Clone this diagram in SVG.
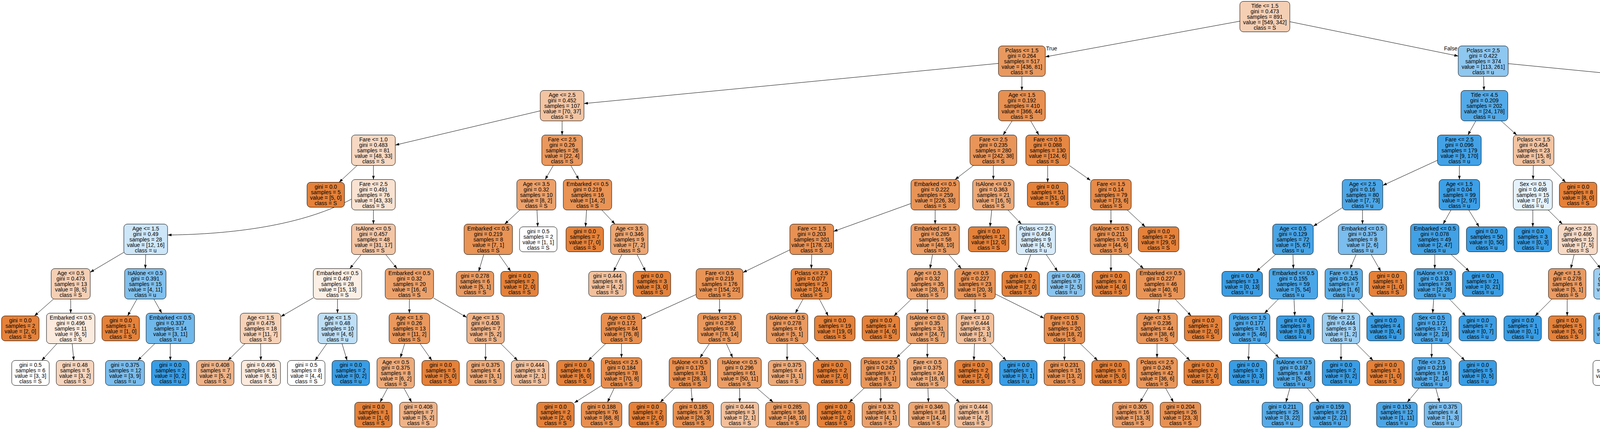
<svg xmlns="http://www.w3.org/2000/svg" width="5945" height="1098" viewBox="0 0 5945 1098">
<style>
.t{font-family:"Liberation Sans",Arial,Helvetica,sans-serif;font-size:14px;text-anchor:middle;fill:#000}
.lbl{font-family:"Liberation Sans",Arial,Helvetica,sans-serif;font-size:14px;fill:#000}
.o{fill:#e58139;stroke:#000;stroke-width:1}
.b{fill:#399de5;stroke:#000;stroke-width:1}
rect.o,rect.b{rx:9px;ry:9px}
#edges path{fill:none;stroke:#000;stroke-width:1;marker-end:url(#ah)}
</style>
<defs>
<marker id="ah" viewBox="0 0 10 7" markerWidth="10" markerHeight="7" refX="10" refY="3.5" orient="auto" markerUnits="userSpaceOnUse"><path d="M0,0 L10,3.5 L0,7 z" fill="#000"/></marker>
</defs>
<rect x="0" y="0" width="5945" height="1098" fill="#fff"/>
<g id="edges">
<path d="M3174.2,54.2 L2676,145.5"/>
<path d="M3301.8,55.5 L3733.2,143.5"/>
<path d="M2556,162.3 L1495,265.1"/>
<path d="M2616,195.5 L2616,231.5"/>
<path d="M3798,195.5 L3799,231.5"/>
<path d="M3860.8,162.8 L4904,265"/>
<path d="M1383,283.7 L1012,371.3"/>
<path d="M1439,309.5 L1439,345.5"/>
<path d="M2591,309.5 L2568,345.5"/>
<path d="M2638.6,309.5 L2659.4,345.5"/>
<path d="M3778.1,309.5 L3757.9,345.5"/>
<path d="M3843.1,309.5 L3882.9,345.5"/>
<path d="M4960,309.5 L4960,345.5"/>
<path d="M5016,279.6 L5608.8,376"/>
<path d="M914.3,423.5 L868.2,466.5"/>
<path d="M956,423.5 L956,459.5"/>
<path d="M1416.4,423.5 L1395.6,459.5"/>
<path d="M1461.2,423.5 L1481.8,459.5"/>
<path d="M2492,423.5 L2445,459.5"/>
<path d="M2543,423.5 L2543,459.5"/>
<path d="M2682,423.5 L2682,466.5"/>
<path d="M2737.4,423.5 L2791.8,461.8"/>
<path d="M3680,410.2 L3540.2,474.5"/>
<path d="M3736,423.5 L3736,459.5"/>
<path d="M3925.3,423.5 L3924.7,459.5"/>
<path d="M3965,423.5 L4008,466.5"/>
<path d="M4928.5,423.5 L4899.5,459.5"/>
<path d="M5021.6,423.5 L5084,463"/>
<path d="M5661,423.5 L5661,459.5"/>
<path d="M5701.4,423.5 L5745.9,466.5"/>
<path d="M900,509.5 C760,585 560,600 429,601.5"/>
<path d="M956,537.5 L956,573.5"/>
<path d="M1330.9,537.5 L1292.1,573.5"/>
<path d="M1374.7,537.5 L1376.6,580.5"/>
<path d="M1501.6,537.5 L1499,580.5"/>
<path d="M1540.6,537.5 L1574.4,573.5"/>
<path d="M2332.3,520.8 L2134,592.3"/>
<path d="M2394,537.5 L2394,573.5"/>
<path d="M2538.9,537.5 L2534.4,580.5"/>
<path d="M2580.3,537.5 L2614.7,573.5"/>
<path d="M2844,537.5 L2844,573.5"/>
<path d="M2885.7,537.5 L2931.8,580.5"/>
<path d="M3435.8,531.9 L3362.2,579.1"/>
<path d="M3488,537.5 L3488,573.5"/>
<path d="M3714.5,537.5 L3694.5,573.5"/>
<path d="M3760,537.5 L3786.4,580.5"/>
<path d="M3924,537.5 L3924,580.5"/>
<path d="M3963.3,537.5 L3999.7,573.5"/>
<path d="M4812,532.3 L4735,578.7"/>
<path d="M4868,537.5 L4868,573.5"/>
<path d="M5140,537.5 L5139,573.5"/>
<path d="M5196,526.1 L5315,584.9"/>
<path d="M5661,537.5 L5660,573.5"/>
<path d="M5701,537.5 L5745.2,580.5"/>
<path d="M317,645.8 L230.8,696.9"/>
<path d="M373,651.5 L372,687.5"/>
<path d="M924.5,651.5 L895.5,687.5"/>
<path d="M987.5,651.5 L1016.5,687.5"/>
<path d="M1238.4,651.5 L1225.5,694.5"/>
<path d="M1277.4,651.5 L1307.5,694.5"/>
<path d="M1591.8,651.5 L1570.7,694.5"/>
<path d="M1630.8,651.5 L1652.7,694.5"/>
<path d="M2022,639.5 L1902,697.5"/>
<path d="M2078,651.5 L2077,687.5"/>
<path d="M2387.2,651.5 L2380.8,687.5"/>
<path d="M2428.9,651.5 L2461.1,687.5"/>
<path d="M2638.7,651.5 L2623.9,694.5"/>
<path d="M2678.3,651.5 L2707.4,694.5"/>
<path d="M2844,651.5 L2844,694.5"/>
<path d="M2887.4,651.5 L2927.6,687.5"/>
<path d="M3265.5,651.5 L3216.5,694.5"/>
<path d="M3310,651.5 L3311,687.5"/>
<path d="M3471.6,651.5 L3456.4,687.5"/>
<path d="M3510.2,651.5 L3534.8,694.5"/>
<path d="M3673,651.5 L3673,687.5"/>
<path d="M3715,651.5 L3761.5,694.5"/>
<path d="M4029.8,651.5 L4021.2,687.5"/>
<path d="M4069.4,651.5 L4097.6,687.5"/>
<path d="M4623,645.8 L4543,693.3"/>
<path d="M4679,651.5 L4678,687.5"/>
<path d="M4857.4,651.5 L4847.6,687.5"/>
<path d="M4898.8,651.5 L4932.7,694.5"/>
<path d="M5118.8,651.5 L5096.6,694.5"/>
<path d="M5159.5,651.5 L5178.5,687.5"/>
<path d="M5371,651.5 L5371,687.5"/>
<path d="M5426.4,651.5 L5477.6,687.5"/>
<path d="M5660,651.5 L5660,694.5"/>
<path d="M5699.7,651.5 L5743.4,694.5"/>
<path d="M136.9,765.5 L88.2,808.5"/>
<path d="M181,765.5 L181,801.5"/>
<path d="M350.5,765.5 L326.7,808.5"/>
<path d="M393.9,765.5 L414.1,801.5"/>
<path d="M802.3,762.2 L719.2,810.3"/>
<path d="M864,765.5 L864,801.5"/>
<path d="M1048,765.5 L1048,801.5"/>
<path d="M1109.7,762.6 L1194.7,812.3"/>
<path d="M1782,753.8 L1643.2,816.8"/>
<path d="M1842,765.5 L1842,801.5"/>
<path d="M2055.8,765.5 L2036.2,801.5"/>
<path d="M2097.5,765.5 L2120.2,808.5"/>
<path d="M2333.3,765.5 L2288.4,808.5"/>
<path d="M2374,765.5 L2374,801.5"/>
<path d="M2496,765.5 L2496,801.5"/>
<path d="M2548.2,752.5 L2672.8,814.5"/>
<path d="M2967.9,765.5 L2965.1,801.5"/>
<path d="M3008.3,765.5 L3049.4,808.5"/>
<path d="M3272.7,765.5 L3237.3,801.5"/>
<path d="M3312.7,765.5 L3314.6,808.5"/>
<path d="M3437.6,765.5 L3435.4,801.5"/>
<path d="M3476.6,765.5 L3517,808.5"/>
<path d="M3670.3,765.5 L3667.7,801.5"/>
<path d="M3710.6,765.5 L3752.1,808.5"/>
<path d="M3973,765.5 L3930,808.5"/>
<path d="M4012,765.5 L4012,808.5"/>
<path d="M4128,765.5 L4128,801.5"/>
<path d="M4167.3,765.5 L4210.7,808.5"/>
<path d="M4445.3,765.5 L4406.7,801.5"/>
<path d="M4487,765.5 L4487,808.5"/>
<path d="M4652,765.5 L4623.3,808.5"/>
<path d="M4691,765.5 L4705.3,808.5"/>
<path d="M4835.6,765.5 L4834.4,801.5"/>
<path d="M4877,765.5 L4914,801.5"/>
<path d="M5158.3,765.5 L5120.7,801.5"/>
<path d="M5199,765.5 L5199,808.5"/>
<path d="M5352.5,765.5 L5335.5,801.5"/>
<path d="M5392.2,765.5 L5415.6,808.5"/>
<path d="M5537.8,765.5 L5542.2,801.5"/>
<path d="M5594.7,755.3 L5728.7,817.9"/>
<path d="M145.8,879.5 L106.9,922.5"/>
<path d="M184.8,879.5 L188.9,922.5"/>
<path d="M396.3,879.5 L352.6,922.5"/>
<path d="M436,879.5 L436,922.5"/>
<path d="M627.3,879.5 L583.6,922.5"/>
<path d="M667.3,879.5 L667.7,922.5"/>
<path d="M836.6,879.5 L806.5,922.5"/>
<path d="M875.6,879.5 L888.5,922.5"/>
<path d="M1036,879.5 L1025,915.5"/>
<path d="M1075.4,879.5 L1105.5,922.5"/>
<path d="M1243,879.5 L1243,922.5"/>
<path d="M1282,879.5 L1325,922.5"/>
<path d="M1550.6,879.5 L1506.1,922.5"/>
<path d="M1591,879.5 L1591,915.5"/>
<path d="M1816,879.5 L1792,915.5"/>
<path d="M1859.4,879.5 L1875.6,915.5"/>
<path d="M2015,879.5 L2015,922.5"/>
<path d="M2054.3,879.5 L2097.7,922.5"/>
<path d="M2333,879.5 L2295,915.5"/>
<path d="M2374,879.5 L2374,915.5"/>
<path d="M2494.6,879.5 L2493.1,922.5"/>
<path d="M2534,879.5 L2575.8,922.5"/>
<path d="M2725,879.5 L2725,922.5"/>
<path d="M2765.4,879.5 L2809.9,922.5"/>
<path d="M2962,879.5 L2962,915.5"/>
<path d="M3002,879.5 L3046.2,922.5"/>
<path d="M3197.6,879.5 L3196.1,922.5"/>
<path d="M3238,879.5 L3274,915.5"/>
<path d="M3433,879.5 L3433,922.5"/>
<path d="M3472,879.5 L3515,922.5"/>
<path d="M3665,879.5 L3665,915.5"/>
<path d="M3705.4,879.5 L3749.9,922.5"/>
<path d="M4127.3,879.5 L4126.6,922.5"/>
<path d="M4166.6,879.5 L4209.3,922.5"/>
<path d="M4363.3,879.5 L4361.7,915.5"/>
<path d="M4403.6,879.5 L4439.4,915.5"/>
<path d="M4785,866 C4700,885 4655,890 4636,922.5"/>
<path d="M4791.6,879.5 L4746,922.5"/>
<path d="M4913.3,879.5 L4875.7,915.5"/>
<path d="M4954.7,879.5 L4955.4,922.5"/>
<path d="M5078.3,879.5 L5076.7,915.5"/>
<path d="M5119.3,879.5 L5162.7,922.5"/>
<path d="M5314.6,879.5 L5312,922.5"/>
<path d="M5355,879.5 L5390,915.5"/>
<path d="M5547,879.5 L5547,915.5"/>
<path d="M5586.3,879.5 L5622.7,915.5"/>
<path d="M5777,879.5 L5777,922.5"/>
<path d="M5816,879.5 L5859,922.5"/>
<path d="M992.2,993.5 L973,1029.5"/>
<path d="M1034.1,993.5 L1053.7,1029.5"/>
<path d="M1538.8,987.5 L1470.3,1030.9"/>
<path d="M1572.4,993.5 L1555.2,1029.5"/>
<path d="M1726.6,993.5 L1690.3,1029.5"/>
<path d="M1769.3,993.5 L1772.3,1029.5"/>
<path d="M1893.4,993.5 L1893.7,1029.5"/>
<path d="M1937.8,993.5 L1979.2,1029.5"/>
<path d="M2212.4,993.5 L2174.1,1029.5"/>
<path d="M2254.4,993.5 L2254.7,1029.5"/>
<path d="M2375.5,993.5 L2376.8,1029.5"/>
<path d="M2417,993.5 L2456.7,1029.5"/>
<path d="M2939.4,993.5 L2918.5,1029.5"/>
<path d="M2983.9,993.5 L3004.1,1029.5"/>
<path d="M3302.1,993.5 L3292,1029.5"/>
<path d="M3346.5,993.5 L3377.5,1029.5"/>
<path d="M3632.6,993.5 L3602.6,1029.5"/>
<path d="M3675.6,993.5 L3685.3,1029.5"/>
<path d="M4318.1,993.5 L4279.4,1029.5"/>
<path d="M4360,993.5 L4360,1029.5"/>
<path d="M4477.6,993.5 L4477.3,1029.5"/>
<path d="M4519.9,993.5 L4558.6,1029.5"/>
<path d="M4795.3,993.5 L4758.6,1029.5"/>
<path d="M4837.2,993.5 L4839.2,1029.5"/>
<path d="M5033.4,993.5 L4995.1,1029.5"/>
<path d="M5075.7,993.5 L5076.4,1029.5"/>
<path d="M5374.8,987.8 L5305.3,1031.3"/>
<path d="M5407.2,993.5 L5388,1029.5"/>
<path d="M5524.8,993.5 L5504.2,1029.5"/>
<path d="M5567,993.5 L5585.6,1029.5"/>
<path d="M5682,993.5 L5700.6,1029.5"/>
<path d="M5710.3,985.1 L5782.7,1030.9"/>
<text class="lbl" x="2678" y="129">True</text>
<text class="lbl" x="3731" y="129" text-anchor="end">False</text>
</g>
<g id="nodes">
<g id="n0" transform="translate(3238 42.5)"><rect class="o" x="-64" y="-39" width="128" height="78" fill-opacity=".38"/><text class="t" y="-23"><tspan x="0">Title &lt;= 1.5</tspan><tspan x="0" dy="14">gini = 0.473</tspan><tspan x="0" dy="14">samples = 891</tspan><tspan x="0" dy="14">value = [549, 342]</tspan><tspan x="0" dy="14">class = S</tspan></text></g>
<g id="n1" transform="translate(2616 156.5)"><rect class="o" x="-60" y="-39" width="120" height="78" fill-opacity=".81"/><text class="t" y="-23"><tspan x="0">Pclass &lt;= 1.5</tspan><tspan x="0" dy="14">gini = 0.264</tspan><tspan x="0" dy="14">samples = 517</tspan><tspan x="0" dy="14">value = [436, 81]</tspan><tspan x="0" dy="14">class = S</tspan></text></g>
<g id="n2" transform="translate(3797 156.5)"><rect class="b" x="-64" y="-39" width="128" height="78" fill-opacity=".57"/><text class="t" y="-23"><tspan x="0">Pclass &lt;= 2.5</tspan><tspan x="0" dy="14">gini = 0.422</tspan><tspan x="0" dy="14">samples = 374</tspan><tspan x="0" dy="14">value = [113, 261]</tspan><tspan x="0" dy="14">class = u</tspan></text></g>
<g id="n3" transform="translate(1439 270.5)"><rect class="o" x="-56" y="-39" width="112" height="78" fill-opacity=".47"/><text class="t" y="-23"><tspan x="0">Age &lt;= 2.5</tspan><tspan x="0" dy="14">gini = 0.452</tspan><tspan x="0" dy="14">samples = 107</tspan><tspan x="0" dy="14">value = [70, 37]</tspan><tspan x="0" dy="14">class = S</tspan></text></g>
<g id="n4" transform="translate(2616 270.5)"><rect class="o" x="-60" y="-39" width="120" height="78" fill-opacity=".88"/><text class="t" y="-23"><tspan x="0">Age &lt;= 1.5</tspan><tspan x="0" dy="14">gini = 0.192</tspan><tspan x="0" dy="14">samples = 410</tspan><tspan x="0" dy="14">value = [366, 44]</tspan><tspan x="0" dy="14">class = S</tspan></text></g>
<g id="n5" transform="translate(3800 270.5)"><rect class="b" x="-60" y="-39" width="120" height="78" fill-opacity=".87"/><text class="t" y="-23"><tspan x="0">Title &lt;= 4.5</tspan><tspan x="0" dy="14">gini = 0.209</tspan><tspan x="0" dy="14">samples = 202</tspan><tspan x="0" dy="14">value = [24, 178]</tspan><tspan x="0" dy="14">class = u</tspan></text></g>
<g id="n6" transform="translate(4960 270.5)"><rect class="o" x="-56" y="-39" width="112" height="78" fill-opacity=".07"/><text class="t" y="-23"><tspan x="0">Fare &lt;= 2.5</tspan><tspan x="0" dy="14">gini = 0.499</tspan><tspan x="0" dy="14">samples = 172</tspan><tspan x="0" dy="14">value = [89, 83]</tspan><tspan x="0" dy="14">class = S</tspan></text></g>
<g id="n7" transform="translate(956 384.5)"><rect class="o" x="-56" y="-39" width="112" height="78" fill-opacity=".31"/><text class="t" y="-23"><tspan x="0">Fare &lt;= 1.0</tspan><tspan x="0" dy="14">gini = 0.483</tspan><tspan x="0" dy="14">samples = 81</tspan><tspan x="0" dy="14">value = [48, 33]</tspan><tspan x="0" dy="14">class = S</tspan></text></g>
<g id="n8" transform="translate(1439 384.5)"><rect class="o" x="-52" y="-39" width="104" height="78" fill-opacity=".82"/><text class="t" y="-23"><tspan x="0">Fare &lt;= 2.5</tspan><tspan x="0" dy="14">gini = 0.26</tspan><tspan x="0" dy="14">samples = 26</tspan><tspan x="0" dy="14">value = [22, 4]</tspan><tspan x="0" dy="14">class = S</tspan></text></g>
<g id="n9" transform="translate(2543 384.5)"><rect class="o" x="-60" y="-39" width="120" height="78" fill-opacity=".84"/><text class="t" y="-23"><tspan x="0">Fare &lt;= 2.5</tspan><tspan x="0" dy="14">gini = 0.235</tspan><tspan x="0" dy="14">samples = 280</tspan><tspan x="0" dy="14">value = [242, 38]</tspan><tspan x="0" dy="14">class = S</tspan></text></g>
<g id="n10" transform="translate(2682 384.5)"><rect class="o" x="-56" y="-39" width="112" height="78" fill-opacity=".95"/><text class="t" y="-23"><tspan x="0">Fare &lt;= 0.5</tspan><tspan x="0" dy="14">gini = 0.088</tspan><tspan x="0" dy="14">samples = 130</tspan><tspan x="0" dy="14">value = [124, 6]</tspan><tspan x="0" dy="14">class = S</tspan></text></g>
<g id="n11" transform="translate(3736 384.5)"><rect class="b" x="-56" y="-39" width="112" height="78" fill-opacity=".95"/><text class="t" y="-23"><tspan x="0">Fare &lt;= 2.5</tspan><tspan x="0" dy="14">gini = 0.096</tspan><tspan x="0" dy="14">samples = 179</tspan><tspan x="0" dy="14">value = [9, 170]</tspan><tspan x="0" dy="14">class = u</tspan></text></g>
<g id="n12" transform="translate(3926 384.5)"><rect class="o" x="-52" y="-39" width="104" height="78" fill-opacity=".47"/><text class="t" y="-23"><tspan x="0">Pclass &lt;= 1.5</tspan><tspan x="0" dy="14">gini = 0.454</tspan><tspan x="0" dy="14">samples = 23</tspan><tspan x="0" dy="14">value = [15, 8]</tspan><tspan x="0" dy="14">class = S</tspan></text></g>
<g id="n13" transform="translate(4960 384.5)"><rect class="b" x="-62" y="-39" width="124" height="78" fill-opacity=".18"/><text class="t" y="-23"><tspan x="0">Embarked &lt;= 0.5</tspan><tspan x="0" dy="14">gini = 0.495</tspan><tspan x="0" dy="14">samples = 146</tspan><tspan x="0" dy="14">value = [66, 80]</tspan><tspan x="0" dy="14">class = u</tspan></text></g>
<g id="n14" transform="translate(5661 384.5)"><rect class="o" x="-52" y="-39" width="104" height="78" fill-opacity=".87"/><text class="t" y="-23"><tspan x="0">Age &lt;= 1.5</tspan><tspan x="0" dy="14">gini = 0.204</tspan><tspan x="0" dy="14">samples = 26</tspan><tspan x="0" dy="14">value = [23, 3]</tspan><tspan x="0" dy="14">class = S</tspan></text></g>
<g id="n15" transform="translate(834 498.5)"><rect class="o" x="-48" y="-32" width="96" height="64" fill-opacity="1"/><text class="t" y="-16"><tspan x="0">gini = 0.0</tspan><tspan x="0" dy="14">samples = 5</tspan><tspan x="0" dy="14">value = [5, 0]</tspan><tspan x="0" dy="14">class = S</tspan></text></g>
<g id="n16" transform="translate(956 498.5)"><rect class="o" x="-56" y="-39" width="112" height="78" fill-opacity=".23"/><text class="t" y="-23"><tspan x="0">Fare &lt;= 2.5</tspan><tspan x="0" dy="14">gini = 0.491</tspan><tspan x="0" dy="14">samples = 76</tspan><tspan x="0" dy="14">value = [43, 33]</tspan><tspan x="0" dy="14">class = S</tspan></text></g>
<g id="n17" transform="translate(1373 498.5)"><rect class="o" x="-50" y="-39" width="100" height="78" fill-opacity=".75"/><text class="t" y="-23"><tspan x="0">Age &lt;= 3.5</tspan><tspan x="0" dy="14">gini = 0.32</tspan><tspan x="0" dy="14">samples = 10</tspan><tspan x="0" dy="14">value = [8, 2]</tspan><tspan x="0" dy="14">class = S</tspan></text></g>
<g id="n18" transform="translate(1504 498.5)"><rect class="o" x="-62" y="-39" width="124" height="78" fill-opacity=".86"/><text class="t" y="-23"><tspan x="0">Embarked &lt;= 0.5</tspan><tspan x="0" dy="14">gini = 0.219</tspan><tspan x="0" dy="14">samples = 16</tspan><tspan x="0" dy="14">value = [14, 2]</tspan><tspan x="0" dy="14">class = S</tspan></text></g>
<g id="n19" transform="translate(2394 498.5)"><rect class="o" x="-62" y="-39" width="124" height="78" fill-opacity=".85"/><text class="t" y="-23"><tspan x="0">Embarked &lt;= 0.5</tspan><tspan x="0" dy="14">gini = 0.222</tspan><tspan x="0" dy="14">samples = 259</tspan><tspan x="0" dy="14">value = [226, 33]</tspan><tspan x="0" dy="14">class = S</tspan></text></g>
<g id="n20" transform="translate(2543 498.5)"><rect class="o" x="-53" y="-39" width="106" height="78" fill-opacity=".69"/><text class="t" y="-23"><tspan x="0">IsAlone &lt;= 0.5</tspan><tspan x="0" dy="14">gini = 0.363</tspan><tspan x="0" dy="14">samples = 21</tspan><tspan x="0" dy="14">value = [16, 5]</tspan><tspan x="0" dy="14">class = S</tspan></text></g>
<g id="n21" transform="translate(2682 498.5)"><rect class="o" x="-52" y="-32" width="104" height="64" fill-opacity="1"/><text class="t" y="-16"><tspan x="0">gini = 0.0</tspan><tspan x="0" dy="14">samples = 51</tspan><tspan x="0" dy="14">value = [51, 0]</tspan><tspan x="0" dy="14">class = S</tspan></text></g>
<g id="n22" transform="translate(2844 498.5)"><rect class="o" x="-52" y="-39" width="104" height="78" fill-opacity=".92"/><text class="t" y="-23"><tspan x="0">Fare &lt;= 1.5</tspan><tspan x="0" dy="14">gini = 0.14</tspan><tspan x="0" dy="14">samples = 79</tspan><tspan x="0" dy="14">value = [73, 6]</tspan><tspan x="0" dy="14">class = S</tspan></text></g>
<g id="n23" transform="translate(3488 498.5)"><rect class="b" x="-52" y="-39" width="104" height="78" fill-opacity=".9"/><text class="t" y="-23"><tspan x="0">Age &lt;= 2.5</tspan><tspan x="0" dy="14">gini = 0.16</tspan><tspan x="0" dy="14">samples = 80</tspan><tspan x="0" dy="14">value = [7, 73]</tspan><tspan x="0" dy="14">class = u</tspan></text></g>
<g id="n24" transform="translate(3736 498.5)"><rect class="b" x="-52" y="-39" width="104" height="78" fill-opacity=".98"/><text class="t" y="-23"><tspan x="0">Age &lt;= 1.5</tspan><tspan x="0" dy="14">gini = 0.04</tspan><tspan x="0" dy="14">samples = 99</tspan><tspan x="0" dy="14">value = [2, 97]</tspan><tspan x="0" dy="14">class = u</tspan></text></g>
<g id="n25" transform="translate(3924 498.5)"><rect class="b" x="-50" y="-39" width="100" height="78" fill-opacity=".13"/><text class="t" y="-23"><tspan x="0">Sex &lt;= 0.5</tspan><tspan x="0" dy="14">gini = 0.498</tspan><tspan x="0" dy="14">samples = 15</tspan><tspan x="0" dy="14">value = [7, 8]</tspan><tspan x="0" dy="14">class = u</tspan></text></g>
<g id="n26" transform="translate(4040 498.5)"><rect class="o" x="-48" y="-32" width="96" height="64" fill-opacity="1"/><text class="t" y="-16"><tspan x="0">gini = 0.0</tspan><tspan x="0" dy="14">samples = 8</tspan><tspan x="0" dy="14">value = [8, 0]</tspan><tspan x="0" dy="14">class = S</tspan></text></g>
<g id="n27" transform="translate(4868 498.5)"><rect class="o" x="-56" y="-39" width="112" height="78" fill-opacity=".18"/><text class="t" y="-23"><tspan x="0">Title &lt;= 2.5</tspan><tspan x="0" dy="14">gini = 0.495</tspan><tspan x="0" dy="14">samples = 82</tspan><tspan x="0" dy="14">value = [45, 37]</tspan><tspan x="0" dy="14">class = S</tspan></text></g>
<g id="n28" transform="translate(5140 498.5)"><rect class="b" x="-56" y="-39" width="112" height="78" fill-opacity=".51"/><text class="t" y="-23"><tspan x="0">Fare &lt;= 1.5</tspan><tspan x="0" dy="14">gini = 0.441</tspan><tspan x="0" dy="14">samples = 64</tspan><tspan x="0" dy="14">value = [21, 43]</tspan><tspan x="0" dy="14">class = u</tspan></text></g>
<g id="n29" transform="translate(5661 498.5)"><rect class="o" x="-52" y="-39" width="104" height="78" fill-opacity=".89"/><text class="t" y="-23"><tspan x="0">Age &lt;= 0.5</tspan><tspan x="0" dy="14">gini = 0.172</tspan><tspan x="0" dy="14">samples = 21</tspan><tspan x="0" dy="14">value = [19, 2]</tspan><tspan x="0" dy="14">class = S</tspan></text></g>
<g id="n30" transform="translate(5779 498.5)"><rect class="o" x="-48" y="-32" width="96" height="64" fill-opacity=".75"/><text class="t" y="-16"><tspan x="0">gini = 0.32</tspan><tspan x="0" dy="14">samples = 5</tspan><tspan x="0" dy="14">value = [4, 1]</tspan><tspan x="0" dy="14">class = S</tspan></text></g>
<g id="n31" transform="translate(373 612.5)"><rect class="b" x="-56" y="-39" width="112" height="78" fill-opacity=".25"/><text class="t" y="-23"><tspan x="0">Age &lt;= 1.5</tspan><tspan x="0" dy="14">gini = 0.49</tspan><tspan x="0" dy="14">samples = 28</tspan><tspan x="0" dy="14">value = [12, 16]</tspan><tspan x="0" dy="14">class = u</tspan></text></g>
<g id="n32" transform="translate(956 612.5)"><rect class="o" x="-56" y="-39" width="112" height="78" fill-opacity=".45"/><text class="t" y="-23"><tspan x="0">IsAlone &lt;= 0.5</tspan><tspan x="0" dy="14">gini = 0.457</tspan><tspan x="0" dy="14">samples = 48</tspan><tspan x="0" dy="14">value = [31, 17]</tspan><tspan x="0" dy="14">class = S</tspan></text></g>
<g id="n33" transform="translate(1250 612.5)"><rect class="o" x="-62" y="-39" width="124" height="78" fill-opacity=".86"/><text class="t" y="-23"><tspan x="0">Embarked &lt;= 0.5</tspan><tspan x="0" dy="14">gini = 0.219</tspan><tspan x="0" dy="14">samples = 8</tspan><tspan x="0" dy="14">value = [7, 1]</tspan><tspan x="0" dy="14">class = S</tspan></text></g>
<g id="n34" transform="translate(1378 612.5)"><rect class="o" x="-48" y="-32" width="96" height="64" fill-opacity="0"/><text class="t" y="-16"><tspan x="0">gini = 0.5</tspan><tspan x="0" dy="14">samples = 2</tspan><tspan x="0" dy="14">value = [1, 1]</tspan><tspan x="0" dy="14">class = S</tspan></text></g>
<g id="n35" transform="translate(1497 612.5)"><rect class="o" x="-48" y="-32" width="96" height="64" fill-opacity="1"/><text class="t" y="-16"><tspan x="0">gini = 0.0</tspan><tspan x="0" dy="14">samples = 7</tspan><tspan x="0" dy="14">value = [7, 0]</tspan><tspan x="0" dy="14">class = S</tspan></text></g>
<g id="n36" transform="translate(1611 612.5)"><rect class="o" x="-48" y="-39" width="96" height="78" fill-opacity=".71"/><text class="t" y="-23"><tspan x="0">Age &lt;= 3.5</tspan><tspan x="0" dy="14">gini = 0.346</tspan><tspan x="0" dy="14">samples = 9</tspan><tspan x="0" dy="14">value = [7, 2]</tspan><tspan x="0" dy="14">class = S</tspan></text></g>
<g id="n37" transform="translate(2078 612.5)"><rect class="o" x="-56" y="-39" width="112" height="78" fill-opacity=".87"/><text class="t" y="-23"><tspan x="0">Fare &lt;= 1.5</tspan><tspan x="0" dy="14">gini = 0.203</tspan><tspan x="0" dy="14">samples = 201</tspan><tspan x="0" dy="14">value = [178, 23]</tspan><tspan x="0" dy="14">class = S</tspan></text></g>
<g id="n38" transform="translate(2394 612.5)"><rect class="o" x="-62" y="-39" width="124" height="78" fill-opacity=".79"/><text class="t" y="-23"><tspan x="0">Embarked &lt;= 1.5</tspan><tspan x="0" dy="14">gini = 0.285</tspan><tspan x="0" dy="14">samples = 58</tspan><tspan x="0" dy="14">value = [48, 10]</tspan><tspan x="0" dy="14">class = S</tspan></text></g>
<g id="n39" transform="translate(2531 612.5)"><rect class="o" x="-52" y="-32" width="104" height="64" fill-opacity="1"/><text class="t" y="-16"><tspan x="0">gini = 0.0</tspan><tspan x="0" dy="14">samples = 12</tspan><tspan x="0" dy="14">value = [12, 0]</tspan><tspan x="0" dy="14">class = S</tspan></text></g>
<g id="n40" transform="translate(2652 612.5)"><rect class="b" x="-50" y="-39" width="100" height="78" fill-opacity=".2"/><text class="t" y="-23"><tspan x="0">Pclass &lt;= 2.5</tspan><tspan x="0" dy="14">gini = 0.494</tspan><tspan x="0" dy="14">samples = 9</tspan><tspan x="0" dy="14">value = [4, 5]</tspan><tspan x="0" dy="14">class = u</tspan></text></g>
<g id="n41" transform="translate(2844 612.5)"><rect class="o" x="-53" y="-39" width="106" height="78" fill-opacity=".86"/><text class="t" y="-23"><tspan x="0">IsAlone &lt;= 0.5</tspan><tspan x="0" dy="14">gini = 0.211</tspan><tspan x="0" dy="14">samples = 50</tspan><tspan x="0" dy="14">value = [44, 6]</tspan><tspan x="0" dy="14">class = S</tspan></text></g>
<g id="n42" transform="translate(2966 612.5)"><rect class="o" x="-52" y="-32" width="104" height="64" fill-opacity="1"/><text class="t" y="-16"><tspan x="0">gini = 0.0</tspan><tspan x="0" dy="14">samples = 29</tspan><tspan x="0" dy="14">value = [29, 0]</tspan><tspan x="0" dy="14">class = S</tspan></text></g>
<g id="n43" transform="translate(3310 612.5)"><rect class="b" x="-52" y="-39" width="104" height="78" fill-opacity=".93"/><text class="t" y="-23"><tspan x="0">Age &lt;= 0.5</tspan><tspan x="0" dy="14">gini = 0.129</tspan><tspan x="0" dy="14">samples = 72</tspan><tspan x="0" dy="14">value = [5, 67]</tspan><tspan x="0" dy="14">class = u</tspan></text></g>
<g id="n44" transform="translate(3488 612.5)"><rect class="b" x="-62" y="-39" width="124" height="78" fill-opacity=".67"/><text class="t" y="-23"><tspan x="0">Embarked &lt;= 0.5</tspan><tspan x="0" dy="14">gini = 0.375</tspan><tspan x="0" dy="14">samples = 8</tspan><tspan x="0" dy="14">value = [2, 6]</tspan><tspan x="0" dy="14">class = u</tspan></text></g>
<g id="n45" transform="translate(3673 612.5)"><rect class="b" x="-62" y="-39" width="124" height="78" fill-opacity=".96"/><text class="t" y="-23"><tspan x="0">Embarked &lt;= 0.5</tspan><tspan x="0" dy="14">gini = 0.078</tspan><tspan x="0" dy="14">samples = 49</tspan><tspan x="0" dy="14">value = [2, 47]</tspan><tspan x="0" dy="14">class = u</tspan></text></g>
<g id="n46" transform="translate(3806 612.5)"><rect class="b" x="-52" y="-32" width="104" height="64" fill-opacity="1"/><text class="t" y="-16"><tspan x="0">gini = 0.0</tspan><tspan x="0" dy="14">samples = 50</tspan><tspan x="0" dy="14">value = [0, 50]</tspan><tspan x="0" dy="14">class = u</tspan></text></g>
<g id="n47" transform="translate(3924 612.5)"><rect class="b" x="-48" y="-32" width="96" height="64" fill-opacity="1"/><text class="t" y="-16"><tspan x="0">gini = 0.0</tspan><tspan x="0" dy="14">samples = 3</tspan><tspan x="0" dy="14">value = [0, 3]</tspan><tspan x="0" dy="14">class = u</tspan></text></g>
<g id="n48" transform="translate(4039 612.5)"><rect class="o" x="-50" y="-39" width="100" height="78" fill-opacity=".29"/><text class="t" y="-23"><tspan x="0">Age &lt;= 2.5</tspan><tspan x="0" dy="14">gini = 0.486</tspan><tspan x="0" dy="14">samples = 12</tspan><tspan x="0" dy="14">value = [7, 5]</tspan><tspan x="0" dy="14">class = S</tspan></text></g>
<g id="n49" transform="translate(4679 612.5)"><rect class="o" x="-56" y="-39" width="112" height="78" fill-opacity=".38"/><text class="t" y="-23"><tspan x="0">Fare &lt;= 1.5</tspan><tspan x="0" dy="14">gini = 0.473</tspan><tspan x="0" dy="14">samples = 47</tspan><tspan x="0" dy="14">value = [29, 18]</tspan><tspan x="0" dy="14">class = S</tspan></text></g>
<g id="n50" transform="translate(4868 612.5)"><rect class="b" x="-56" y="-39" width="112" height="78" fill-opacity=".16"/><text class="t" y="-23"><tspan x="0">Age &lt;= 2.5</tspan><tspan x="0" dy="14">gini = 0.496</tspan><tspan x="0" dy="14">samples = 35</tspan><tspan x="0" dy="14">value = [16, 19]</tspan><tspan x="0" dy="14">class = u</tspan></text></g>
<g id="n51" transform="translate(5139 612.5)"><rect class="b" x="-52" y="-39" width="104" height="78" fill-opacity=".74"/><text class="t" y="-23"><tspan x="0">Age &lt;= 0.5</tspan><tspan x="0" dy="14">gini = 0.327</tspan><tspan x="0" dy="14">samples = 34</tspan><tspan x="0" dy="14">value = [7, 27]</tspan><tspan x="0" dy="14">class = u</tspan></text></g>
<g id="n52" transform="translate(5371 612.5)"><rect class="b" x="-56" y="-39" width="112" height="78" fill-opacity=".13"/><text class="t" y="-23"><tspan x="0">Title &lt;= 2.5</tspan><tspan x="0" dy="14">gini = 0.498</tspan><tspan x="0" dy="14">samples = 30</tspan><tspan x="0" dy="14">value = [14, 16]</tspan><tspan x="0" dy="14">class = u</tspan></text></g>
<g id="n53" transform="translate(5660 612.5)"><rect class="o" x="-52" y="-39" width="104" height="78" fill-opacity=".86"/><text class="t" y="-23"><tspan x="0">Title &lt;= 3.0</tspan><tspan x="0" dy="14">gini = 0.219</tspan><tspan x="0" dy="14">samples = 16</tspan><tspan x="0" dy="14">value = [14, 2]</tspan><tspan x="0" dy="14">class = S</tspan></text></g>
<g id="n54" transform="translate(5778 612.5)"><rect class="o" x="-48" y="-32" width="96" height="64" fill-opacity="1"/><text class="t" y="-16"><tspan x="0">gini = 0.0</tspan><tspan x="0" dy="14">samples = 5</tspan><tspan x="0" dy="14">value = [5, 0]</tspan><tspan x="0" dy="14">class = S</tspan></text></g>
<g id="n55" transform="translate(181 726.5)"><rect class="o" x="-50" y="-39" width="100" height="78" fill-opacity=".38"/><text class="t" y="-23"><tspan x="0">Age &lt;= 0.5</tspan><tspan x="0" dy="14">gini = 0.473</tspan><tspan x="0" dy="14">samples = 13</tspan><tspan x="0" dy="14">value = [8, 5]</tspan><tspan x="0" dy="14">class = S</tspan></text></g>
<g id="n56" transform="translate(372 726.5)"><rect class="b" x="-53" y="-39" width="106" height="78" fill-opacity=".64"/><text class="t" y="-23"><tspan x="0">IsAlone &lt;= 0.5</tspan><tspan x="0" dy="14">gini = 0.391</tspan><tspan x="0" dy="14">samples = 15</tspan><tspan x="0" dy="14">value = [4, 11]</tspan><tspan x="0" dy="14">class = u</tspan></text></g>
<g id="n57" transform="translate(864 726.5)"><rect class="o" x="-62" y="-39" width="124" height="78" fill-opacity=".13"/><text class="t" y="-23"><tspan x="0">Embarked &lt;= 0.5</tspan><tspan x="0" dy="14">gini = 0.497</tspan><tspan x="0" dy="14">samples = 28</tspan><tspan x="0" dy="14">value = [15, 13]</tspan><tspan x="0" dy="14">class = S</tspan></text></g>
<g id="n58" transform="translate(1048 726.5)"><rect class="o" x="-62" y="-39" width="124" height="78" fill-opacity=".75"/><text class="t" y="-23"><tspan x="0">Embarked &lt;= 0.5</tspan><tspan x="0" dy="14">gini = 0.32</tspan><tspan x="0" dy="14">samples = 20</tspan><tspan x="0" dy="14">value = [16, 4]</tspan><tspan x="0" dy="14">class = S</tspan></text></g>
<g id="n59" transform="translate(1216 726.5)"><rect class="o" x="-48" y="-32" width="96" height="64" fill-opacity=".8"/><text class="t" y="-16"><tspan x="0">gini = 0.278</tspan><tspan x="0" dy="14">samples = 6</tspan><tspan x="0" dy="14">value = [5, 1]</tspan><tspan x="0" dy="14">class = S</tspan></text></g>
<g id="n60" transform="translate(1330 726.5)"><rect class="o" x="-48" y="-32" width="96" height="64" fill-opacity="1"/><text class="t" y="-16"><tspan x="0">gini = 0.0</tspan><tspan x="0" dy="14">samples = 2</tspan><tspan x="0" dy="14">value = [2, 0]</tspan><tspan x="0" dy="14">class = S</tspan></text></g>
<g id="n61" transform="translate(1555 726.5)"><rect class="o" x="-48" y="-32" width="96" height="64" fill-opacity=".5"/><text class="t" y="-16"><tspan x="0">gini = 0.444</tspan><tspan x="0" dy="14">samples = 6</tspan><tspan x="0" dy="14">value = [4, 2]</tspan><tspan x="0" dy="14">class = S</tspan></text></g>
<g id="n62" transform="translate(1669 726.5)"><rect class="o" x="-48" y="-32" width="96" height="64" fill-opacity="1"/><text class="t" y="-16"><tspan x="0">gini = 0.0</tspan><tspan x="0" dy="14">samples = 3</tspan><tspan x="0" dy="14">value = [3, 0]</tspan><tspan x="0" dy="14">class = S</tspan></text></g>
<g id="n63" transform="translate(1842 726.5)"><rect class="o" x="-60" y="-39" width="120" height="78" fill-opacity=".86"/><text class="t" y="-23"><tspan x="0">Fare &lt;= 0.5</tspan><tspan x="0" dy="14">gini = 0.219</tspan><tspan x="0" dy="14">samples = 176</tspan><tspan x="0" dy="14">value = [154, 22]</tspan><tspan x="0" dy="14">class = S</tspan></text></g>
<g id="n64" transform="translate(2077 726.5)"><rect class="o" x="-52" y="-39" width="104" height="78" fill-opacity=".96"/><text class="t" y="-23"><tspan x="0">Pclass &lt;= 2.5</tspan><tspan x="0" dy="14">gini = 0.077</tspan><tspan x="0" dy="14">samples = 25</tspan><tspan x="0" dy="14">value = [24, 1]</tspan><tspan x="0" dy="14">class = S</tspan></text></g>
<g id="n65" transform="translate(2374 726.5)"><rect class="o" x="-52" y="-39" width="104" height="78" fill-opacity=".75"/><text class="t" y="-23"><tspan x="0">Age &lt;= 0.5</tspan><tspan x="0" dy="14">gini = 0.32</tspan><tspan x="0" dy="14">samples = 35</tspan><tspan x="0" dy="14">value = [28, 7]</tspan><tspan x="0" dy="14">class = S</tspan></text></g>
<g id="n66" transform="translate(2496 726.5)"><rect class="o" x="-52" y="-39" width="104" height="78" fill-opacity=".85"/><text class="t" y="-23"><tspan x="0">Age &lt;= 0.5</tspan><tspan x="0" dy="14">gini = 0.227</tspan><tspan x="0" dy="14">samples = 23</tspan><tspan x="0" dy="14">value = [20, 3]</tspan><tspan x="0" dy="14">class = S</tspan></text></g>
<g id="n67" transform="translate(2613 726.5)"><rect class="o" x="-48" y="-32" width="96" height="64" fill-opacity="1"/><text class="t" y="-16"><tspan x="0">gini = 0.0</tspan><tspan x="0" dy="14">samples = 2</tspan><tspan x="0" dy="14">value = [2, 0]</tspan><tspan x="0" dy="14">class = S</tspan></text></g>
<g id="n68" transform="translate(2729 726.5)"><rect class="b" x="-48" y="-32" width="96" height="64" fill-opacity=".6"/><text class="t" y="-16"><tspan x="0">gini = 0.408</tspan><tspan x="0" dy="14">samples = 7</tspan><tspan x="0" dy="14">value = [2, 5]</tspan><tspan x="0" dy="14">class = u</tspan></text></g>
<g id="n69" transform="translate(2844 726.5)"><rect class="o" x="-48" y="-32" width="96" height="64" fill-opacity="1"/><text class="t" y="-16"><tspan x="0">gini = 0.0</tspan><tspan x="0" dy="14">samples = 4</tspan><tspan x="0" dy="14">value = [4, 0]</tspan><tspan x="0" dy="14">class = S</tspan></text></g>
<g id="n70" transform="translate(2971 726.5)"><rect class="o" x="-62" y="-39" width="124" height="78" fill-opacity=".85"/><text class="t" y="-23"><tspan x="0">Embarked &lt;= 0.5</tspan><tspan x="0" dy="14">gini = 0.227</tspan><tspan x="0" dy="14">samples = 46</tspan><tspan x="0" dy="14">value = [40, 6]</tspan><tspan x="0" dy="14">class = S</tspan></text></g>
<g id="n71" transform="translate(3180 726.5)"><rect class="b" x="-52" y="-32" width="104" height="64" fill-opacity="1"/><text class="t" y="-16"><tspan x="0">gini = 0.0</tspan><tspan x="0" dy="14">samples = 13</tspan><tspan x="0" dy="14">value = [0, 13]</tspan><tspan x="0" dy="14">class = u</tspan></text></g>
<g id="n72" transform="translate(3311 726.5)"><rect class="b" x="-62" y="-39" width="124" height="78" fill-opacity=".91"/><text class="t" y="-23"><tspan x="0">Embarked &lt;= 0.5</tspan><tspan x="0" dy="14">gini = 0.155</tspan><tspan x="0" dy="14">samples = 59</tspan><tspan x="0" dy="14">value = [5, 54]</tspan><tspan x="0" dy="14">class = u</tspan></text></g>
<g id="n73" transform="translate(3440 726.5)"><rect class="b" x="-48" y="-39" width="96" height="78" fill-opacity=".83"/><text class="t" y="-23"><tspan x="0">Fare &lt;= 1.5</tspan><tspan x="0" dy="14">gini = 0.245</tspan><tspan x="0" dy="14">samples = 7</tspan><tspan x="0" dy="14">value = [1, 6]</tspan><tspan x="0" dy="14">class = u</tspan></text></g>
<g id="n74" transform="translate(3553 726.5)"><rect class="o" x="-48" y="-32" width="96" height="64" fill-opacity="1"/><text class="t" y="-16"><tspan x="0">gini = 0.0</tspan><tspan x="0" dy="14">samples = 1</tspan><tspan x="0" dy="14">value = [1, 0]</tspan><tspan x="0" dy="14">class = S</tspan></text></g>
<g id="n75" transform="translate(3673 726.5)"><rect class="b" x="-53" y="-39" width="106" height="78" fill-opacity=".92"/><text class="t" y="-23"><tspan x="0">IsAlone &lt;= 0.5</tspan><tspan x="0" dy="14">gini = 0.133</tspan><tspan x="0" dy="14">samples = 28</tspan><tspan x="0" dy="14">value = [2, 26]</tspan><tspan x="0" dy="14">class = u</tspan></text></g>
<g id="n76" transform="translate(3796 726.5)"><rect class="b" x="-52" y="-32" width="104" height="64" fill-opacity="1"/><text class="t" y="-16"><tspan x="0">gini = 0.0</tspan><tspan x="0" dy="14">samples = 21</tspan><tspan x="0" dy="14">value = [0, 21]</tspan><tspan x="0" dy="14">class = u</tspan></text></g>
<g id="n77" transform="translate(4012 726.5)"><rect class="o" x="-48" y="-39" width="96" height="78" fill-opacity=".8"/><text class="t" y="-23"><tspan x="0">Age &lt;= 1.5</tspan><tspan x="0" dy="14">gini = 0.278</tspan><tspan x="0" dy="14">samples = 6</tspan><tspan x="0" dy="14">value = [5, 1]</tspan><tspan x="0" dy="14">class = S</tspan></text></g>
<g id="n78" transform="translate(4128 726.5)"><rect class="b" x="-48" y="-39" width="96" height="78" fill-opacity=".5"/><text class="t" y="-23"><tspan x="0">Age &lt;= 3.5</tspan><tspan x="0" dy="14">gini = 0.444</tspan><tspan x="0" dy="14">samples = 6</tspan><tspan x="0" dy="14">value = [2, 4]</tspan><tspan x="0" dy="14">class = u</tspan></text></g>
<g id="n79" transform="translate(4487 726.5)"><rect class="o" x="-56" y="-39" width="112" height="78" fill-opacity=".16"/><text class="t" y="-23"><tspan x="0">Age &lt;= 1.5</tspan><tspan x="0" dy="14">gini = 0.496</tspan><tspan x="0" dy="14">samples = 35</tspan><tspan x="0" dy="14">value = [19, 16]</tspan><tspan x="0" dy="14">class = S</tspan></text></g>
<g id="n80" transform="translate(4678 726.5)"><rect class="o" x="-52" y="-39" width="104" height="78" fill-opacity=".8"/><text class="t" y="-23"><tspan x="0">Age &lt;= 0.5</tspan><tspan x="0" dy="14">gini = 0.278</tspan><tspan x="0" dy="14">samples = 12</tspan><tspan x="0" dy="14">value = [10, 2]</tspan><tspan x="0" dy="14">class = S</tspan></text></g>
<g id="n81" transform="translate(4837 726.5)"><rect class="b" x="-56" y="-39" width="112" height="78" fill-opacity=".11"/><text class="t" y="-23"><tspan x="0">Age &lt;= 0.5</tspan><tspan x="0" dy="14">gini = 0.498</tspan><tspan x="0" dy="14">samples = 34</tspan><tspan x="0" dy="14">value = [16, 18]</tspan><tspan x="0" dy="14">class = u</tspan></text></g>
<g id="n82" transform="translate(4958 726.5)"><rect class="b" x="-48" y="-32" width="96" height="64" fill-opacity="1"/><text class="t" y="-16"><tspan x="0">gini = 0.0</tspan><tspan x="0" dy="14">samples = 1</tspan><tspan x="0" dy="14">value = [0, 1]</tspan><tspan x="0" dy="14">class = u</tspan></text></g>
<g id="n83" transform="translate(5080 726.5)"><rect class="b" x="-48" y="-32" width="96" height="64" fill-opacity="1"/><text class="t" y="-16"><tspan x="0">gini = 0.0</tspan><tspan x="0" dy="14">samples = 9</tspan><tspan x="0" dy="14">value = [0, 9]</tspan><tspan x="0" dy="14">class = u</tspan></text></g>
<g id="n84" transform="translate(5199 726.5)"><rect class="b" x="-52" y="-39" width="104" height="78" fill-opacity=".61"/><text class="t" y="-23"><tspan x="0">Age &lt;= 1.5</tspan><tspan x="0" dy="14">gini = 0.403</tspan><tspan x="0" dy="14">samples = 25</tspan><tspan x="0" dy="14">value = [7, 18]</tspan><tspan x="0" dy="14">class = u</tspan></text></g>
<g id="n85" transform="translate(5371 726.5)"><rect class="b" x="-62" y="-39" width="124" height="78" fill-opacity=".44"/><text class="t" y="-23"><tspan x="0">Embarked &lt;= 1.5</tspan><tspan x="0" dy="14">gini = 0.459</tspan><tspan x="0" dy="14">samples = 14</tspan><tspan x="0" dy="14">value = [5, 9]</tspan><tspan x="0" dy="14">class = u</tspan></text></g>
<g id="n86" transform="translate(5533 726.5)"><rect class="o" x="-62" y="-39" width="124" height="78" fill-opacity=".22"/><text class="t" y="-23"><tspan x="0">Embarked &lt;= 1.5</tspan><tspan x="0" dy="14">gini = 0.492</tspan><tspan x="0" dy="14">samples = 16</tspan><tspan x="0" dy="14">value = [9, 7]</tspan><tspan x="0" dy="14">class = S</tspan></text></g>
<g id="n87" transform="translate(5660 726.5)"><rect class="o" x="-48" y="-32" width="96" height="64" fill-opacity=".83"/><text class="t" y="-16"><tspan x="0">gini = 0.245</tspan><tspan x="0" dy="14">samples = 7</tspan><tspan x="0" dy="14">value = [6, 1]</tspan><tspan x="0" dy="14">class = S</tspan></text></g>
<g id="n88" transform="translate(5776 726.5)"><rect class="o" x="-48" y="-32" width="96" height="64" fill-opacity=".88"/><text class="t" y="-16"><tspan x="0">gini = 0.198</tspan><tspan x="0" dy="14">samples = 9</tspan><tspan x="0" dy="14">value = [8, 1]</tspan><tspan x="0" dy="14">class = S</tspan></text></g>
<g id="n89" transform="translate(52 840.5)"><rect class="o" x="-48" y="-32" width="96" height="64" fill-opacity="1"/><text class="t" y="-16"><tspan x="0">gini = 0.0</tspan><tspan x="0" dy="14">samples = 2</tspan><tspan x="0" dy="14">value = [2, 0]</tspan><tspan x="0" dy="14">class = S</tspan></text></g>
<g id="n90" transform="translate(181 840.5)"><rect class="o" x="-62" y="-39" width="124" height="78" fill-opacity=".17"/><text class="t" y="-23"><tspan x="0">Embarked &lt;= 0.5</tspan><tspan x="0" dy="14">gini = 0.496</tspan><tspan x="0" dy="14">samples = 11</tspan><tspan x="0" dy="14">value = [6, 5]</tspan><tspan x="0" dy="14">class = S</tspan></text></g>
<g id="n91" transform="translate(309 840.5)"><rect class="o" x="-48" y="-32" width="96" height="64" fill-opacity="1"/><text class="t" y="-16"><tspan x="0">gini = 0.0</tspan><tspan x="0" dy="14">samples = 1</tspan><tspan x="0" dy="14">value = [1, 0]</tspan><tspan x="0" dy="14">class = S</tspan></text></g>
<g id="n92" transform="translate(436 840.5)"><rect class="b" x="-62" y="-39" width="124" height="78" fill-opacity=".73"/><text class="t" y="-23"><tspan x="0">Embarked &lt;= 0.5</tspan><tspan x="0" dy="14">gini = 0.337</tspan><tspan x="0" dy="14">samples = 14</tspan><tspan x="0" dy="14">value = [3, 11]</tspan><tspan x="0" dy="14">class = u</tspan></text></g>
<g id="n93" transform="translate(667 840.5)"><rect class="o" x="-52" y="-39" width="104" height="78" fill-opacity=".36"/><text class="t" y="-23"><tspan x="0">Age &lt;= 1.5</tspan><tspan x="0" dy="14">gini = 0.475</tspan><tspan x="0" dy="14">samples = 18</tspan><tspan x="0" dy="14">value = [11, 7]</tspan><tspan x="0" dy="14">class = S</tspan></text></g>
<g id="n94" transform="translate(864 840.5)"><rect class="b" x="-50" y="-39" width="100" height="78" fill-opacity=".33"/><text class="t" y="-23"><tspan x="0">Age &lt;= 1.5</tspan><tspan x="0" dy="14">gini = 0.48</tspan><tspan x="0" dy="14">samples = 10</tspan><tspan x="0" dy="14">value = [4, 6]</tspan><tspan x="0" dy="14">class = u</tspan></text></g>
<g id="n95" transform="translate(1048 840.5)"><rect class="o" x="-52" y="-39" width="104" height="78" fill-opacity=".82"/><text class="t" y="-23"><tspan x="0">Age &lt;= 1.5</tspan><tspan x="0" dy="14">gini = 0.26</tspan><tspan x="0" dy="14">samples = 13</tspan><tspan x="0" dy="14">value = [11, 2]</tspan><tspan x="0" dy="14">class = S</tspan></text></g>
<g id="n96" transform="translate(1243 840.5)"><rect class="o" x="-48" y="-39" width="96" height="78" fill-opacity=".6"/><text class="t" y="-23"><tspan x="0">Age &lt;= 1.5</tspan><tspan x="0" dy="14">gini = 0.408</tspan><tspan x="0" dy="14">samples = 7</tspan><tspan x="0" dy="14">value = [5, 2]</tspan><tspan x="0" dy="14">class = S</tspan></text></g>
<g id="n97" transform="translate(1591 840.5)"><rect class="o" x="-52" y="-39" width="104" height="78" fill-opacity=".89"/><text class="t" y="-23"><tspan x="0">Age &lt;= 0.5</tspan><tspan x="0" dy="14">gini = 0.172</tspan><tspan x="0" dy="14">samples = 84</tspan><tspan x="0" dy="14">value = [76, 8]</tspan><tspan x="0" dy="14">class = S</tspan></text></g>
<g id="n98" transform="translate(1842 840.5)"><rect class="o" x="-56" y="-39" width="112" height="78" fill-opacity=".82"/><text class="t" y="-23"><tspan x="0">Pclass &lt;= 2.5</tspan><tspan x="0" dy="14">gini = 0.258</tspan><tspan x="0" dy="14">samples = 92</tspan><tspan x="0" dy="14">value = [78, 14]</tspan><tspan x="0" dy="14">class = S</tspan></text></g>
<g id="n99" transform="translate(2015 840.5)"><rect class="o" x="-53" y="-39" width="106" height="78" fill-opacity=".8"/><text class="t" y="-23"><tspan x="0">IsAlone &lt;= 0.5</tspan><tspan x="0" dy="14">gini = 0.278</tspan><tspan x="0" dy="14">samples = 6</tspan><tspan x="0" dy="14">value = [5, 1]</tspan><tspan x="0" dy="14">class = S</tspan></text></g>
<g id="n100" transform="translate(2137 840.5)"><rect class="o" x="-52" y="-32" width="104" height="64" fill-opacity="1"/><text class="t" y="-16"><tspan x="0">gini = 0.0</tspan><tspan x="0" dy="14">samples = 19</tspan><tspan x="0" dy="14">value = [19, 0]</tspan><tspan x="0" dy="14">class = S</tspan></text></g>
<g id="n101" transform="translate(2255 840.5)"><rect class="o" x="-48" y="-32" width="96" height="64" fill-opacity="1"/><text class="t" y="-16"><tspan x="0">gini = 0.0</tspan><tspan x="0" dy="14">samples = 4</tspan><tspan x="0" dy="14">value = [4, 0]</tspan><tspan x="0" dy="14">class = S</tspan></text></g>
<g id="n102" transform="translate(2374 840.5)"><rect class="o" x="-53" y="-39" width="106" height="78" fill-opacity=".71"/><text class="t" y="-23"><tspan x="0">IsAlone &lt;= 0.5</tspan><tspan x="0" dy="14">gini = 0.35</tspan><tspan x="0" dy="14">samples = 31</tspan><tspan x="0" dy="14">value = [24, 7]</tspan><tspan x="0" dy="14">class = S</tspan></text></g>
<g id="n103" transform="translate(2496 840.5)"><rect class="o" x="-48" y="-39" width="96" height="78" fill-opacity=".5"/><text class="t" y="-23"><tspan x="0">Fare &lt;= 1.0</tspan><tspan x="0" dy="14">gini = 0.444</tspan><tspan x="0" dy="14">samples = 3</tspan><tspan x="0" dy="14">value = [2, 1]</tspan><tspan x="0" dy="14">class = S</tspan></text></g>
<g id="n104" transform="translate(2725 840.5)"><rect class="o" x="-52" y="-39" width="104" height="78" fill-opacity=".89"/><text class="t" y="-23"><tspan x="0">Fare &lt;= 0.5</tspan><tspan x="0" dy="14">gini = 0.18</tspan><tspan x="0" dy="14">samples = 20</tspan><tspan x="0" dy="14">value = [18, 2]</tspan><tspan x="0" dy="14">class = S</tspan></text></g>
<g id="n105" transform="translate(2962 840.5)"><rect class="o" x="-52" y="-39" width="104" height="78" fill-opacity=".84"/><text class="t" y="-23"><tspan x="0">Age &lt;= 3.5</tspan><tspan x="0" dy="14">gini = 0.236</tspan><tspan x="0" dy="14">samples = 44</tspan><tspan x="0" dy="14">value = [38, 6]</tspan><tspan x="0" dy="14">class = S</tspan></text></g>
<g id="n106" transform="translate(3080 840.5)"><rect class="o" x="-48" y="-32" width="96" height="64" fill-opacity="1"/><text class="t" y="-16"><tspan x="0">gini = 0.0</tspan><tspan x="0" dy="14">samples = 2</tspan><tspan x="0" dy="14">value = [2, 0]</tspan><tspan x="0" dy="14">class = S</tspan></text></g>
<g id="n107" transform="translate(3199 840.5)"><rect class="b" x="-52" y="-39" width="104" height="78" fill-opacity=".89"/><text class="t" y="-23"><tspan x="0">Pclass &lt;= 1.5</tspan><tspan x="0" dy="14">gini = 0.177</tspan><tspan x="0" dy="14">samples = 51</tspan><tspan x="0" dy="14">value = [5, 46]</tspan><tspan x="0" dy="14">class = u</tspan></text></g>
<g id="n108" transform="translate(3316 840.5)"><rect class="b" x="-48" y="-32" width="96" height="64" fill-opacity="1"/><text class="t" y="-16"><tspan x="0">gini = 0.0</tspan><tspan x="0" dy="14">samples = 8</tspan><tspan x="0" dy="14">value = [0, 8]</tspan><tspan x="0" dy="14">class = u</tspan></text></g>
<g id="n109" transform="translate(3433 840.5)"><rect class="b" x="-48" y="-39" width="96" height="78" fill-opacity=".5"/><text class="t" y="-23"><tspan x="0">Title &lt;= 2.5</tspan><tspan x="0" dy="14">gini = 0.444</tspan><tspan x="0" dy="14">samples = 3</tspan><tspan x="0" dy="14">value = [1, 2]</tspan><tspan x="0" dy="14">class = u</tspan></text></g>
<g id="n110" transform="translate(3547 840.5)"><rect class="b" x="-48" y="-32" width="96" height="64" fill-opacity="1"/><text class="t" y="-16"><tspan x="0">gini = 0.0</tspan><tspan x="0" dy="14">samples = 4</tspan><tspan x="0" dy="14">value = [0, 4]</tspan><tspan x="0" dy="14">class = u</tspan></text></g>
<g id="n111" transform="translate(3665 840.5)"><rect class="b" x="-50" y="-39" width="100" height="78" fill-opacity=".89"/><text class="t" y="-23"><tspan x="0">Sex &lt;= 0.5</tspan><tspan x="0" dy="14">gini = 0.172</tspan><tspan x="0" dy="14">samples = 21</tspan><tspan x="0" dy="14">value = [2, 19]</tspan><tspan x="0" dy="14">class = u</tspan></text></g>
<g id="n112" transform="translate(3783 840.5)"><rect class="b" x="-48" y="-32" width="96" height="64" fill-opacity="1"/><text class="t" y="-16"><tspan x="0">gini = 0.0</tspan><tspan x="0" dy="14">samples = 7</tspan><tspan x="0" dy="14">value = [0, 7]</tspan><tspan x="0" dy="14">class = u</tspan></text></g>
<g id="n113" transform="translate(3898 840.5)"><rect class="b" x="-48" y="-32" width="96" height="64" fill-opacity="1"/><text class="t" y="-16"><tspan x="0">gini = 0.0</tspan><tspan x="0" dy="14">samples = 1</tspan><tspan x="0" dy="14">value = [0, 1]</tspan><tspan x="0" dy="14">class = u</tspan></text></g>
<g id="n114" transform="translate(4012 840.5)"><rect class="o" x="-48" y="-32" width="96" height="64" fill-opacity="1"/><text class="t" y="-16"><tspan x="0">gini = 0.0</tspan><tspan x="0" dy="14">samples = 5</tspan><tspan x="0" dy="14">value = [5, 0]</tspan><tspan x="0" dy="14">class = S</tspan></text></g>
<g id="n115" transform="translate(4128 840.5)"><rect class="b" x="-48" y="-39" width="96" height="78" fill-opacity=".75"/><text class="t" y="-23"><tspan x="0">Fare &lt;= 2.5</tspan><tspan x="0" dy="14">gini = 0.32</tspan><tspan x="0" dy="14">samples = 5</tspan><tspan x="0" dy="14">value = [1, 4]</tspan><tspan x="0" dy="14">class = u</tspan></text></g>
<g id="n116" transform="translate(4243 840.5)"><rect class="o" x="-48" y="-32" width="96" height="64" fill-opacity="1"/><text class="t" y="-16"><tspan x="0">gini = 0.0</tspan><tspan x="0" dy="14">samples = 1</tspan><tspan x="0" dy="14">value = [1, 0]</tspan><tspan x="0" dy="14">class = S</tspan></text></g>
<g id="n117" transform="translate(4365 840.5)"><rect class="o" x="-56" y="-39" width="112" height="78" fill-opacity=".06"/><text class="t" y="-23"><tspan x="0">Fare &lt;= 0.5</tspan><tspan x="0" dy="14">gini = 0.5</tspan><tspan x="0" dy="14">samples = 33</tspan><tspan x="0" dy="14">value = [17, 16]</tspan><tspan x="0" dy="14">class = S</tspan></text></g>
<g id="n118" transform="translate(4487 840.5)"><rect class="o" x="-48" y="-32" width="96" height="64" fill-opacity="1"/><text class="t" y="-16"><tspan x="0">gini = 0.0</tspan><tspan x="0" dy="14">samples = 2</tspan><tspan x="0" dy="14">value = [2, 0]</tspan><tspan x="0" dy="14">class = S</tspan></text></g>
<g id="n119" transform="translate(4602 840.5)"><rect class="o" x="-48" y="-32" width="96" height="64" fill-opacity=".6"/><text class="t" y="-16"><tspan x="0">gini = 0.408</tspan><tspan x="0" dy="14">samples = 7</tspan><tspan x="0" dy="14">value = [5, 2]</tspan><tspan x="0" dy="14">class = S</tspan></text></g>
<g id="n120" transform="translate(4716 840.5)"><rect class="o" x="-48" y="-32" width="96" height="64" fill-opacity="1"/><text class="t" y="-16"><tspan x="0">gini = 0.0</tspan><tspan x="0" dy="14">samples = 5</tspan><tspan x="0" dy="14">value = [5, 0]</tspan><tspan x="0" dy="14">class = S</tspan></text></g>
<g id="n121" transform="translate(4833 840.5)"><rect class="b" x="-48" y="-39" width="96" height="78" fill-opacity=".5"/><text class="t" y="-23"><tspan x="0">Fare &lt;= 1.5</tspan><tspan x="0" dy="14">gini = 0.444</tspan><tspan x="0" dy="14">samples = 9</tspan><tspan x="0" dy="14">value = [3, 6]</tspan><tspan x="0" dy="14">class = u</tspan></text></g>
<g id="n122" transform="translate(4954 840.5)"><rect class="o" x="-56" y="-39" width="112" height="78" fill-opacity=".08"/><text class="t" y="-23"><tspan x="0">Sex &lt;= 0.5</tspan><tspan x="0" dy="14">gini = 0.499</tspan><tspan x="0" dy="14">samples = 25</tspan><tspan x="0" dy="14">value = [13, 12]</tspan><tspan x="0" dy="14">class = S</tspan></text></g>
<g id="n123" transform="translate(5080 840.5)"><rect class="b" x="-52" y="-39" width="104" height="78" fill-opacity=".42"/><text class="t" y="-23"><tspan x="0">Fare &lt;= 0.5</tspan><tspan x="0" dy="14">gini = 0.465</tspan><tspan x="0" dy="14">samples = 19</tspan><tspan x="0" dy="14">value = [7, 12]</tspan><tspan x="0" dy="14">class = u</tspan></text></g>
<g id="n124" transform="translate(5199 840.5)"><rect class="b" x="-48" y="-32" width="96" height="64" fill-opacity="1"/><text class="t" y="-16"><tspan x="0">gini = 0.0</tspan><tspan x="0" dy="14">samples = 6</tspan><tspan x="0" dy="14">value = [0, 6]</tspan><tspan x="0" dy="14">class = u</tspan></text></g>
<g id="n125" transform="translate(5317 840.5)"><rect class="o" x="-50" y="-39" width="100" height="78" fill-opacity="0"/><text class="t" y="-23"><tspan x="0">Age &lt;= 0.5</tspan><tspan x="0" dy="14">gini = 0.5</tspan><tspan x="0" dy="14">samples = 10</tspan><tspan x="0" dy="14">value = [5, 5]</tspan><tspan x="0" dy="14">class = S</tspan></text></g>
<g id="n126" transform="translate(5433 840.5)"><rect class="b" x="-48" y="-32" width="96" height="64" fill-opacity="1"/><text class="t" y="-16"><tspan x="0">gini = 0.0</tspan><tspan x="0" dy="14">samples = 4</tspan><tspan x="0" dy="14">value = [0, 4]</tspan><tspan x="0" dy="14">class = u</tspan></text></g>
<g id="n127" transform="translate(5547 840.5)"><rect class="b" x="-48" y="-39" width="96" height="78" fill-opacity=".5"/><text class="t" y="-23"><tspan x="0">Age &lt;= 1.5</tspan><tspan x="0" dy="14">gini = 0.444</tspan><tspan x="0" dy="14">samples = 9</tspan><tspan x="0" dy="14">value = [3, 6]</tspan><tspan x="0" dy="14">class = u</tspan></text></g>
<g id="n128" transform="translate(5777 840.5)"><rect class="o" x="-48" y="-39" width="96" height="78" fill-opacity=".83"/><text class="t" y="-23"><tspan x="0">Age &lt;= 1.5</tspan><tspan x="0" dy="14">gini = 0.245</tspan><tspan x="0" dy="14">samples = 7</tspan><tspan x="0" dy="14">value = [6, 1]</tspan><tspan x="0" dy="14">class = S</tspan></text></g>
<g id="n129" transform="translate(78 954.5)"><rect class="o" x="-48" y="-32" width="96" height="64" fill-opacity="0"/><text class="t" y="-16"><tspan x="0">gini = 0.5</tspan><tspan x="0" dy="14">samples = 6</tspan><tspan x="0" dy="14">value = [3, 3]</tspan><tspan x="0" dy="14">class = S</tspan></text></g>
<g id="n130" transform="translate(192 954.5)"><rect class="o" x="-48" y="-32" width="96" height="64" fill-opacity=".33"/><text class="t" y="-16"><tspan x="0">gini = 0.48</tspan><tspan x="0" dy="14">samples = 5</tspan><tspan x="0" dy="14">value = [3, 2]</tspan><tspan x="0" dy="14">class = S</tspan></text></g>
<g id="n131" transform="translate(320 954.5)"><rect class="b" x="-50" y="-32" width="100" height="64" fill-opacity=".67"/><text class="t" y="-16"><tspan x="0">gini = 0.375</tspan><tspan x="0" dy="14">samples = 12</tspan><tspan x="0" dy="14">value = [3, 9]</tspan><tspan x="0" dy="14">class = u</tspan></text></g>
<g id="n132" transform="translate(436 954.5)"><rect class="b" x="-48" y="-32" width="96" height="64" fill-opacity="1"/><text class="t" y="-16"><tspan x="0">gini = 0.0</tspan><tspan x="0" dy="14">samples = 2</tspan><tspan x="0" dy="14">value = [0, 2]</tspan><tspan x="0" dy="14">class = u</tspan></text></g>
<g id="n133" transform="translate(551 954.5)"><rect class="o" x="-48" y="-32" width="96" height="64" fill-opacity=".6"/><text class="t" y="-16"><tspan x="0">gini = 0.408</tspan><tspan x="0" dy="14">samples = 7</tspan><tspan x="0" dy="14">value = [5, 2]</tspan><tspan x="0" dy="14">class = S</tspan></text></g>
<g id="n134" transform="translate(668 954.5)"><rect class="o" x="-50" y="-32" width="100" height="64" fill-opacity=".17"/><text class="t" y="-16"><tspan x="0">gini = 0.496</tspan><tspan x="0" dy="14">samples = 11</tspan><tspan x="0" dy="14">value = [6, 5]</tspan><tspan x="0" dy="14">class = S</tspan></text></g>
<g id="n135" transform="translate(784 954.5)"><rect class="o" x="-48" y="-32" width="96" height="64" fill-opacity="0"/><text class="t" y="-16"><tspan x="0">gini = 0.5</tspan><tspan x="0" dy="14">samples = 8</tspan><tspan x="0" dy="14">value = [4, 4]</tspan><tspan x="0" dy="14">class = S</tspan></text></g>
<g id="n136" transform="translate(898 954.5)"><rect class="b" x="-48" y="-32" width="96" height="64" fill-opacity="1"/><text class="t" y="-16"><tspan x="0">gini = 0.0</tspan><tspan x="0" dy="14">samples = 2</tspan><tspan x="0" dy="14">value = [0, 2]</tspan><tspan x="0" dy="14">class = u</tspan></text></g>
<g id="n137" transform="translate(1013 954.5)"><rect class="o" x="-48" y="-39" width="96" height="78" fill-opacity=".67"/><text class="t" y="-23"><tspan x="0">Age &lt;= 0.5</tspan><tspan x="0" dy="14">gini = 0.375</tspan><tspan x="0" dy="14">samples = 8</tspan><tspan x="0" dy="14">value = [6, 2]</tspan><tspan x="0" dy="14">class = S</tspan></text></g>
<g id="n138" transform="translate(1128 954.5)"><rect class="o" x="-48" y="-32" width="96" height="64" fill-opacity="1"/><text class="t" y="-16"><tspan x="0">gini = 0.0</tspan><tspan x="0" dy="14">samples = 5</tspan><tspan x="0" dy="14">value = [5, 0]</tspan><tspan x="0" dy="14">class = S</tspan></text></g>
<g id="n139" transform="translate(1243 954.5)"><rect class="o" x="-48" y="-32" width="96" height="64" fill-opacity=".67"/><text class="t" y="-16"><tspan x="0">gini = 0.375</tspan><tspan x="0" dy="14">samples = 4</tspan><tspan x="0" dy="14">value = [3, 1]</tspan><tspan x="0" dy="14">class = S</tspan></text></g>
<g id="n140" transform="translate(1357 954.5)"><rect class="o" x="-48" y="-32" width="96" height="64" fill-opacity=".5"/><text class="t" y="-16"><tspan x="0">gini = 0.444</tspan><tspan x="0" dy="14">samples = 3</tspan><tspan x="0" dy="14">value = [2, 1]</tspan><tspan x="0" dy="14">class = S</tspan></text></g>
<g id="n141" transform="translate(1473 954.5)"><rect class="o" x="-48" y="-32" width="96" height="64" fill-opacity="1"/><text class="t" y="-16"><tspan x="0">gini = 0.0</tspan><tspan x="0" dy="14">samples = 6</tspan><tspan x="0" dy="14">value = [6, 0]</tspan><tspan x="0" dy="14">class = S</tspan></text></g>
<g id="n142" transform="translate(1591 954.5)"><rect class="o" x="-52" y="-39" width="104" height="78" fill-opacity=".89"/><text class="t" y="-23"><tspan x="0">Pclass &lt;= 2.5</tspan><tspan x="0" dy="14">gini = 0.184</tspan><tspan x="0" dy="14">samples = 78</tspan><tspan x="0" dy="14">value = [70, 8]</tspan><tspan x="0" dy="14">class = S</tspan></text></g>
<g id="n143" transform="translate(1766 954.5)"><rect class="o" x="-53" y="-39" width="106" height="78" fill-opacity=".89"/><text class="t" y="-23"><tspan x="0">IsAlone &lt;= 0.5</tspan><tspan x="0" dy="14">gini = 0.175</tspan><tspan x="0" dy="14">samples = 31</tspan><tspan x="0" dy="14">value = [28, 3]</tspan><tspan x="0" dy="14">class = S</tspan></text></g>
<g id="n144" transform="translate(1893 954.5)"><rect class="o" x="-56" y="-39" width="112" height="78" fill-opacity=".78"/><text class="t" y="-23"><tspan x="0">IsAlone &lt;= 0.5</tspan><tspan x="0" dy="14">gini = 0.296</tspan><tspan x="0" dy="14">samples = 61</tspan><tspan x="0" dy="14">value = [50, 11]</tspan><tspan x="0" dy="14">class = S</tspan></text></g>
<g id="n145" transform="translate(2015 954.5)"><rect class="o" x="-48" y="-32" width="96" height="64" fill-opacity=".67"/><text class="t" y="-16"><tspan x="0">gini = 0.375</tspan><tspan x="0" dy="14">samples = 4</tspan><tspan x="0" dy="14">value = [3, 1]</tspan><tspan x="0" dy="14">class = S</tspan></text></g>
<g id="n146" transform="translate(2130 954.5)"><rect class="o" x="-48" y="-32" width="96" height="64" fill-opacity="1"/><text class="t" y="-16"><tspan x="0">gini = 0.0</tspan><tspan x="0" dy="14">samples = 2</tspan><tspan x="0" dy="14">value = [2, 0]</tspan><tspan x="0" dy="14">class = S</tspan></text></g>
<g id="n147" transform="translate(2254 954.5)"><rect class="o" x="-50" y="-39" width="100" height="78" fill-opacity=".83"/><text class="t" y="-23"><tspan x="0">Pclass &lt;= 2.5</tspan><tspan x="0" dy="14">gini = 0.245</tspan><tspan x="0" dy="14">samples = 7</tspan><tspan x="0" dy="14">value = [6, 1]</tspan><tspan x="0" dy="14">class = S</tspan></text></g>
<g id="n148" transform="translate(2374 954.5)"><rect class="o" x="-52" y="-39" width="104" height="78" fill-opacity=".67"/><text class="t" y="-23"><tspan x="0">Fare &lt;= 0.5</tspan><tspan x="0" dy="14">gini = 0.375</tspan><tspan x="0" dy="14">samples = 24</tspan><tspan x="0" dy="14">value = [18, 6]</tspan><tspan x="0" dy="14">class = S</tspan></text></g>
<g id="n149" transform="translate(2492 954.5)"><rect class="o" x="-48" y="-32" width="96" height="64" fill-opacity="1"/><text class="t" y="-16"><tspan x="0">gini = 0.0</tspan><tspan x="0" dy="14">samples = 2</tspan><tspan x="0" dy="14">value = [2, 0]</tspan><tspan x="0" dy="14">class = S</tspan></text></g>
<g id="n150" transform="translate(2607 954.5)"><rect class="b" x="-48" y="-32" width="96" height="64" fill-opacity="1"/><text class="t" y="-16"><tspan x="0">gini = 0.0</tspan><tspan x="0" dy="14">samples = 1</tspan><tspan x="0" dy="14">value = [0, 1]</tspan><tspan x="0" dy="14">class = u</tspan></text></g>
<g id="n151" transform="translate(2725 954.5)"><rect class="o" x="-52" y="-32" width="104" height="64" fill-opacity=".85"/><text class="t" y="-16"><tspan x="0">gini = 0.231</tspan><tspan x="0" dy="14">samples = 15</tspan><tspan x="0" dy="14">value = [13, 2]</tspan><tspan x="0" dy="14">class = S</tspan></text></g>
<g id="n152" transform="translate(2843 954.5)"><rect class="o" x="-48" y="-32" width="96" height="64" fill-opacity="1"/><text class="t" y="-16"><tspan x="0">gini = 0.0</tspan><tspan x="0" dy="14">samples = 5</tspan><tspan x="0" dy="14">value = [5, 0]</tspan><tspan x="0" dy="14">class = S</tspan></text></g>
<g id="n153" transform="translate(2962 954.5)"><rect class="o" x="-52" y="-39" width="104" height="78" fill-opacity=".83"/><text class="t" y="-23"><tspan x="0">Pclass &lt;= 2.5</tspan><tspan x="0" dy="14">gini = 0.245</tspan><tspan x="0" dy="14">samples = 42</tspan><tspan x="0" dy="14">value = [36, 6]</tspan><tspan x="0" dy="14">class = S</tspan></text></g>
<g id="n154" transform="translate(3079 954.5)"><rect class="o" x="-48" y="-32" width="96" height="64" fill-opacity="1"/><text class="t" y="-16"><tspan x="0">gini = 0.0</tspan><tspan x="0" dy="14">samples = 2</tspan><tspan x="0" dy="14">value = [2, 0]</tspan><tspan x="0" dy="14">class = S</tspan></text></g>
<g id="n155" transform="translate(3195 954.5)"><rect class="b" x="-48" y="-32" width="96" height="64" fill-opacity="1"/><text class="t" y="-16"><tspan x="0">gini = 0.0</tspan><tspan x="0" dy="14">samples = 3</tspan><tspan x="0" dy="14">value = [0, 3]</tspan><tspan x="0" dy="14">class = u</tspan></text></g>
<g id="n156" transform="translate(3313 954.5)"><rect class="b" x="-53" y="-39" width="106" height="78" fill-opacity=".88"/><text class="t" y="-23"><tspan x="0">IsAlone &lt;= 0.5</tspan><tspan x="0" dy="14">gini = 0.187</tspan><tspan x="0" dy="14">samples = 48</tspan><tspan x="0" dy="14">value = [5, 43]</tspan><tspan x="0" dy="14">class = u</tspan></text></g>
<g id="n157" transform="translate(3433 954.5)"><rect class="b" x="-48" y="-32" width="96" height="64" fill-opacity="1"/><text class="t" y="-16"><tspan x="0">gini = 0.0</tspan><tspan x="0" dy="14">samples = 2</tspan><tspan x="0" dy="14">value = [0, 2]</tspan><tspan x="0" dy="14">class = u</tspan></text></g>
<g id="n158" transform="translate(3547 954.5)"><rect class="o" x="-48" y="-32" width="96" height="64" fill-opacity="1"/><text class="t" y="-16"><tspan x="0">gini = 0.0</tspan><tspan x="0" dy="14">samples = 1</tspan><tspan x="0" dy="14">value = [1, 0]</tspan><tspan x="0" dy="14">class = S</tspan></text></g>
<g id="n159" transform="translate(3665 954.5)"><rect class="b" x="-50" y="-39" width="100" height="78" fill-opacity=".86"/><text class="t" y="-23"><tspan x="0">Title &lt;= 2.5</tspan><tspan x="0" dy="14">gini = 0.219</tspan><tspan x="0" dy="14">samples = 16</tspan><tspan x="0" dy="14">value = [2, 14]</tspan><tspan x="0" dy="14">class = u</tspan></text></g>
<g id="n160" transform="translate(3783 954.5)"><rect class="b" x="-48" y="-32" width="96" height="64" fill-opacity="1"/><text class="t" y="-16"><tspan x="0">gini = 0.0</tspan><tspan x="0" dy="14">samples = 5</tspan><tspan x="0" dy="14">value = [0, 5]</tspan><tspan x="0" dy="14">class = u</tspan></text></g>
<g id="n161" transform="translate(4126 954.5)"><rect class="o" x="-48" y="-32" width="96" height="64" fill-opacity="0"/><text class="t" y="-16"><tspan x="0">gini = 0.5</tspan><tspan x="0" dy="14">samples = 2</tspan><tspan x="0" dy="14">value = [1, 1]</tspan><tspan x="0" dy="14">class = S</tspan></text></g>
<g id="n162" transform="translate(4241 954.5)"><rect class="b" x="-48" y="-32" width="96" height="64" fill-opacity="1"/><text class="t" y="-16"><tspan x="0">gini = 0.0</tspan><tspan x="0" dy="14">samples = 3</tspan><tspan x="0" dy="14">value = [0, 3]</tspan><tspan x="0" dy="14">class = u</tspan></text></g>
<g id="n163" transform="translate(4360 954.5)"><rect class="b" x="-50" y="-39" width="100" height="78" fill-opacity=".25"/><text class="t" y="-23"><tspan x="0">Age &lt;= 0.5</tspan><tspan x="0" dy="14">gini = 0.49</tspan><tspan x="0" dy="14">samples = 14</tspan><tspan x="0" dy="14">value = [6, 8]</tspan><tspan x="0" dy="14">class = u</tspan></text></g>
<g id="n164" transform="translate(4478 954.5)"><rect class="o" x="-52" y="-39" width="104" height="78" fill-opacity=".27"/><text class="t" y="-23"><tspan x="0">Age &lt;= 0.5</tspan><tspan x="0" dy="14">gini = 0.488</tspan><tspan x="0" dy="14">samples = 19</tspan><tspan x="0" dy="14">value = [11, 8]</tspan><tspan x="0" dy="14">class = S</tspan></text></g>
<g id="n165" transform="translate(4597 954.5)"><rect class="b" x="-48" y="-32" width="96" height="64" fill-opacity="1"/><text class="t" y="-16"><tspan x="0">gini = 0.0</tspan><tspan x="0" dy="14">samples = 2</tspan><tspan x="0" dy="14">value = [0, 2]</tspan><tspan x="0" dy="14">class = u</tspan></text></g>
<g id="n166" transform="translate(4712 954.5)"><rect class="b" x="-48" y="-32" width="96" height="64" fill-opacity=".25"/><text class="t" y="-16"><tspan x="0">gini = 0.49</tspan><tspan x="0" dy="14">samples = 7</tspan><tspan x="0" dy="14">value = [3, 4]</tspan><tspan x="0" dy="14">class = u</tspan></text></g>
<g id="n167" transform="translate(4835 954.5)"><rect class="o" x="-56" y="-39" width="112" height="78" fill-opacity="0"/><text class="t" y="-23"><tspan x="0">Age &lt;= 1.5</tspan><tspan x="0" dy="14">gini = 0.5</tspan><tspan x="0" dy="14">samples = 24</tspan><tspan x="0" dy="14">value = [12, 12]</tspan><tspan x="0" dy="14">class = S</tspan></text></g>
<g id="n168" transform="translate(4956 954.5)"><rect class="o" x="-48" y="-32" width="96" height="64" fill-opacity="1"/><text class="t" y="-16"><tspan x="0">gini = 0.0</tspan><tspan x="0" dy="14">samples = 1</tspan><tspan x="0" dy="14">value = [1, 0]</tspan><tspan x="0" dy="14">class = S</tspan></text></g>
<g id="n169" transform="translate(5075 954.5)"><rect class="b" x="-53" y="-39" width="106" height="78" fill-opacity=".5"/><text class="t" y="-23"><tspan x="0">IsAlone &lt;= 0.5</tspan><tspan x="0" dy="14">gini = 0.444</tspan><tspan x="0" dy="14">samples = 18</tspan><tspan x="0" dy="14">value = [6, 12]</tspan><tspan x="0" dy="14">class = u</tspan></text></g>
<g id="n170" transform="translate(5195 954.5)"><rect class="o" x="-48" y="-32" width="96" height="64" fill-opacity="1"/><text class="t" y="-16"><tspan x="0">gini = 0.0</tspan><tspan x="0" dy="14">samples = 1</tspan><tspan x="0" dy="14">value = [1, 0]</tspan><tspan x="0" dy="14">class = S</tspan></text></g>
<g id="n171" transform="translate(5310 954.5)"><rect class="b" x="-48" y="-32" width="96" height="64" fill-opacity=".5"/><text class="t" y="-16"><tspan x="0">gini = 0.444</tspan><tspan x="0" dy="14">samples = 6</tspan><tspan x="0" dy="14">value = [2, 4]</tspan><tspan x="0" dy="14">class = u</tspan></text></g>
<g id="n172" transform="translate(5428 954.5)"><rect class="o" x="-53" y="-39" width="106" height="78" fill-opacity=".67"/><text class="t" y="-23"><tspan x="0">IsAlone &lt;= 0.5</tspan><tspan x="0" dy="14">gini = 0.375</tspan><tspan x="0" dy="14">samples = 4</tspan><tspan x="0" dy="14">value = [3, 1]</tspan><tspan x="0" dy="14">class = S</tspan></text></g>
<g id="n173" transform="translate(5547 954.5)"><rect class="b" x="-48" y="-39" width="96" height="78" fill-opacity=".8"/><text class="t" y="-23"><tspan x="0">Age &lt;= 0.5</tspan><tspan x="0" dy="14">gini = 0.278</tspan><tspan x="0" dy="14">samples = 6</tspan><tspan x="0" dy="14">value = [1, 5]</tspan><tspan x="0" dy="14">class = u</tspan></text></g>
<g id="n174" transform="translate(5662 954.5)"><rect class="o" x="-48" y="-39" width="96" height="78" fill-opacity=".5"/><text class="t" y="-23"><tspan x="0">Sex &lt;= 0.5</tspan><tspan x="0" dy="14">gini = 0.444</tspan><tspan x="0" dy="14">samples = 3</tspan><tspan x="0" dy="14">value = [2, 1]</tspan><tspan x="0" dy="14">class = S</tspan></text></g>
<g id="n175" transform="translate(5777 954.5)"><rect class="o" x="-48" y="-32" width="96" height="64" fill-opacity="1"/><text class="t" y="-16"><tspan x="0">gini = 0.0</tspan><tspan x="0" dy="14">samples = 5</tspan><tspan x="0" dy="14">value = [5, 0]</tspan><tspan x="0" dy="14">class = S</tspan></text></g>
<g id="n176" transform="translate(5891 954.5)"><rect class="o" x="-48" y="-32" width="96" height="64" fill-opacity="0"/><text class="t" y="-16"><tspan x="0">gini = 0.5</tspan><tspan x="0" dy="14">samples = 2</tspan><tspan x="0" dy="14">value = [1, 1]</tspan><tspan x="0" dy="14">class = S</tspan></text></g>
<g id="n177" transform="translate(956 1061.5)"><rect class="o" x="-48" y="-32" width="96" height="64" fill-opacity="1"/><text class="t" y="-16"><tspan x="0">gini = 0.0</tspan><tspan x="0" dy="14">samples = 1</tspan><tspan x="0" dy="14">value = [1, 0]</tspan><tspan x="0" dy="14">class = S</tspan></text></g>
<g id="n178" transform="translate(1071 1061.5)"><rect class="o" x="-48" y="-32" width="96" height="64" fill-opacity=".6"/><text class="t" y="-16"><tspan x="0">gini = 0.408</tspan><tspan x="0" dy="14">samples = 7</tspan><tspan x="0" dy="14">value = [5, 2]</tspan><tspan x="0" dy="14">class = S</tspan></text></g>
<g id="n179" transform="translate(1422 1061.5)"><rect class="o" x="-48" y="-32" width="96" height="64" fill-opacity="1"/><text class="t" y="-16"><tspan x="0">gini = 0.0</tspan><tspan x="0" dy="14">samples = 2</tspan><tspan x="0" dy="14">value = [2, 0]</tspan><tspan x="0" dy="14">class = S</tspan></text></g>
<g id="n180" transform="translate(1540 1061.5)"><rect class="o" x="-52" y="-32" width="104" height="64" fill-opacity=".88"/><text class="t" y="-16"><tspan x="0">gini = 0.188</tspan><tspan x="0" dy="14">samples = 76</tspan><tspan x="0" dy="14">value = [68, 8]</tspan><tspan x="0" dy="14">class = S</tspan></text></g>
<g id="n181" transform="translate(1658 1061.5)"><rect class="o" x="-48" y="-32" width="96" height="64" fill-opacity="1"/><text class="t" y="-16"><tspan x="0">gini = 0.0</tspan><tspan x="0" dy="14">samples = 2</tspan><tspan x="0" dy="14">value = [2, 0]</tspan><tspan x="0" dy="14">class = S</tspan></text></g>
<g id="n182" transform="translate(1775 1061.5)"><rect class="o" x="-52" y="-32" width="104" height="64" fill-opacity=".88"/><text class="t" y="-16"><tspan x="0">gini = 0.185</tspan><tspan x="0" dy="14">samples = 29</tspan><tspan x="0" dy="14">value = [26, 3]</tspan><tspan x="0" dy="14">class = S</tspan></text></g>
<g id="n183" transform="translate(1894 1061.5)"><rect class="o" x="-48" y="-32" width="96" height="64" fill-opacity=".5"/><text class="t" y="-16"><tspan x="0">gini = 0.444</tspan><tspan x="0" dy="14">samples = 3</tspan><tspan x="0" dy="14">value = [2, 1]</tspan><tspan x="0" dy="14">class = S</tspan></text></g>
<g id="n184" transform="translate(2016 1061.5)"><rect class="o" x="-56" y="-32" width="112" height="64" fill-opacity=".79"/><text class="t" y="-16"><tspan x="0">gini = 0.285</tspan><tspan x="0" dy="14">samples = 58</tspan><tspan x="0" dy="14">value = [48, 10]</tspan><tspan x="0" dy="14">class = S</tspan></text></g>
<g id="n185" transform="translate(2140 1061.5)"><rect class="o" x="-48" y="-32" width="96" height="64" fill-opacity="1"/><text class="t" y="-16"><tspan x="0">gini = 0.0</tspan><tspan x="0" dy="14">samples = 2</tspan><tspan x="0" dy="14">value = [2, 0]</tspan><tspan x="0" dy="14">class = S</tspan></text></g>
<g id="n186" transform="translate(2255 1061.5)"><rect class="o" x="-48" y="-32" width="96" height="64" fill-opacity=".75"/><text class="t" y="-16"><tspan x="0">gini = 0.32</tspan><tspan x="0" dy="14">samples = 5</tspan><tspan x="0" dy="14">value = [4, 1]</tspan><tspan x="0" dy="14">class = S</tspan></text></g>
<g id="n187" transform="translate(2378 1061.5)"><rect class="o" x="-52" y="-32" width="104" height="64" fill-opacity=".71"/><text class="t" y="-16"><tspan x="0">gini = 0.346</tspan><tspan x="0" dy="14">samples = 18</tspan><tspan x="0" dy="14">value = [14, 4]</tspan><tspan x="0" dy="14">class = S</tspan></text></g>
<g id="n188" transform="translate(2492 1061.5)"><rect class="o" x="-48" y="-32" width="96" height="64" fill-opacity=".5"/><text class="t" y="-16"><tspan x="0">gini = 0.444</tspan><tspan x="0" dy="14">samples = 6</tspan><tspan x="0" dy="14">value = [4, 2]</tspan><tspan x="0" dy="14">class = S</tspan></text></g>
<g id="n189" transform="translate(2900 1061.5)"><rect class="o" x="-52" y="-32" width="104" height="64" fill-opacity=".77"/><text class="t" y="-16"><tspan x="0">gini = 0.305</tspan><tspan x="0" dy="14">samples = 16</tspan><tspan x="0" dy="14">value = [13, 3]</tspan><tspan x="0" dy="14">class = S</tspan></text></g>
<g id="n190" transform="translate(3022 1061.5)"><rect class="o" x="-52" y="-32" width="104" height="64" fill-opacity=".87"/><text class="t" y="-16"><tspan x="0">gini = 0.204</tspan><tspan x="0" dy="14">samples = 26</tspan><tspan x="0" dy="14">value = [23, 3]</tspan><tspan x="0" dy="14">class = S</tspan></text></g>
<g id="n191" transform="translate(3283 1061.5)"><rect class="b" x="-52" y="-32" width="104" height="64" fill-opacity=".86"/><text class="t" y="-16"><tspan x="0">gini = 0.211</tspan><tspan x="0" dy="14">samples = 25</tspan><tspan x="0" dy="14">value = [3, 22]</tspan><tspan x="0" dy="14">class = u</tspan></text></g>
<g id="n192" transform="translate(3405 1061.5)"><rect class="b" x="-52" y="-32" width="104" height="64" fill-opacity=".9"/><text class="t" y="-16"><tspan x="0">gini = 0.159</tspan><tspan x="0" dy="14">samples = 23</tspan><tspan x="0" dy="14">value = [2, 21]</tspan><tspan x="0" dy="14">class = u</tspan></text></g>
<g id="n193" transform="translate(3576 1061.5)"><rect class="b" x="-52" y="-32" width="104" height="64" fill-opacity=".91"/><text class="t" y="-16"><tspan x="0">gini = 0.153</tspan><tspan x="0" dy="14">samples = 12</tspan><tspan x="0" dy="14">value = [1, 11]</tspan><tspan x="0" dy="14">class = u</tspan></text></g>
<g id="n194" transform="translate(3694 1061.5)"><rect class="b" x="-48" y="-32" width="96" height="64" fill-opacity=".67"/><text class="t" y="-16"><tspan x="0">gini = 0.375</tspan><tspan x="0" dy="14">samples = 4</tspan><tspan x="0" dy="14">value = [1, 3]</tspan><tspan x="0" dy="14">class = u</tspan></text></g>
<g id="n195" transform="translate(4245 1061.5)"><rect class="o" x="-48" y="-32" width="96" height="64" fill-opacity="1"/><text class="t" y="-16"><tspan x="0">gini = 0.0</tspan><tspan x="0" dy="14">samples = 2</tspan><tspan x="0" dy="14">value = [2, 0]</tspan><tspan x="0" dy="14">class = S</tspan></text></g>
<g id="n196" transform="translate(4360 1061.5)"><rect class="b" x="-50" y="-32" width="100" height="64" fill-opacity=".5"/><text class="t" y="-16"><tspan x="0">gini = 0.444</tspan><tspan x="0" dy="14">samples = 12</tspan><tspan x="0" dy="14">value = [4, 8]</tspan><tspan x="0" dy="14">class = u</tspan></text></g>
<g id="n197" transform="translate(4477 1061.5)"><rect class="b" x="-48" y="-32" width="96" height="64" fill-opacity=".33"/><text class="t" y="-16"><tspan x="0">gini = 0.48</tspan><tspan x="0" dy="14">samples = 5</tspan><tspan x="0" dy="14">value = [2, 3]</tspan><tspan x="0" dy="14">class = u</tspan></text></g>
<g id="n198" transform="translate(4593 1061.5)"><rect class="o" x="-50" y="-32" width="100" height="64" fill-opacity=".44"/><text class="t" y="-16"><tspan x="0">gini = 0.459</tspan><tspan x="0" dy="14">samples = 14</tspan><tspan x="0" dy="14">value = [9, 5]</tspan><tspan x="0" dy="14">class = S</tspan></text></g>
<g id="n199" transform="translate(4726 1061.5)"><rect class="b" x="-50" y="-32" width="100" height="64" fill-opacity=".11"/><text class="t" y="-16"><tspan x="0">gini = 0.498</tspan><tspan x="0" dy="14">samples = 17</tspan><tspan x="0" dy="14">value = [8, 9]</tspan><tspan x="0" dy="14">class = u</tspan></text></g>
<g id="n200" transform="translate(4841 1061.5)"><rect class="o" x="-48" y="-32" width="96" height="64" fill-opacity=".25"/><text class="t" y="-16"><tspan x="0">gini = 0.49</tspan><tspan x="0" dy="14">samples = 7</tspan><tspan x="0" dy="14">value = [4, 3]</tspan><tspan x="0" dy="14">class = S</tspan></text></g>
<g id="n201" transform="translate(4961 1061.5)"><rect class="o" x="-48" y="-32" width="96" height="64" fill-opacity="1"/><text class="t" y="-16"><tspan x="0">gini = 0.0</tspan><tspan x="0" dy="14">samples = 1</tspan><tspan x="0" dy="14">value = [1, 0]</tspan><tspan x="0" dy="14">class = S</tspan></text></g>
<g id="n202" transform="translate(5077 1061.5)"><rect class="b" x="-52" y="-32" width="104" height="64" fill-opacity=".58"/><text class="t" y="-16"><tspan x="0">gini = 0.415</tspan><tspan x="0" dy="14">samples = 17</tspan><tspan x="0" dy="14">value = [5, 12]</tspan><tspan x="0" dy="14">class = u</tspan></text></g>
<g id="n203" transform="translate(5257 1061.5)"><rect class="o" x="-48" y="-32" width="96" height="64" fill-opacity=".5"/><text class="t" y="-16"><tspan x="0">gini = 0.444</tspan><tspan x="0" dy="14">samples = 3</tspan><tspan x="0" dy="14">value = [2, 1]</tspan><tspan x="0" dy="14">class = S</tspan></text></g>
<g id="n204" transform="translate(5371 1061.5)"><rect class="o" x="-48" y="-32" width="96" height="64" fill-opacity="1"/><text class="t" y="-16"><tspan x="0">gini = 0.0</tspan><tspan x="0" dy="14">samples = 1</tspan><tspan x="0" dy="14">value = [1, 0]</tspan><tspan x="0" dy="14">class = S</tspan></text></g>
<g id="n205" transform="translate(5486 1061.5)"><rect class="b" x="-48" y="-32" width="96" height="64" fill-opacity="1"/><text class="t" y="-16"><tspan x="0">gini = 0.0</tspan><tspan x="0" dy="14">samples = 1</tspan><tspan x="0" dy="14">value = [0, 1]</tspan><tspan x="0" dy="14">class = u</tspan></text></g>
<g id="n206" transform="translate(5602 1061.5)"><rect class="b" x="-48" y="-32" width="96" height="64" fill-opacity=".75"/><text class="t" y="-16"><tspan x="0">gini = 0.32</tspan><tspan x="0" dy="14">samples = 5</tspan><tspan x="0" dy="14">value = [1, 4]</tspan><tspan x="0" dy="14">class = u</tspan></text></g>
<g id="n207" transform="translate(5717 1061.5)"><rect class="o" x="-48" y="-32" width="96" height="64" fill-opacity="1"/><text class="t" y="-16"><tspan x="0">gini = 0.0</tspan><tspan x="0" dy="14">samples = 2</tspan><tspan x="0" dy="14">value = [2, 0]</tspan><tspan x="0" dy="14">class = S</tspan></text></g>
<g id="n208" transform="translate(5831 1061.5)"><rect class="b" x="-48" y="-32" width="96" height="64" fill-opacity="1"/><text class="t" y="-16"><tspan x="0">gini = 0.0</tspan><tspan x="0" dy="14">samples = 1</tspan><tspan x="0" dy="14">value = [0, 1]</tspan><tspan x="0" dy="14">class = u</tspan></text></g>
</g>
</svg>
